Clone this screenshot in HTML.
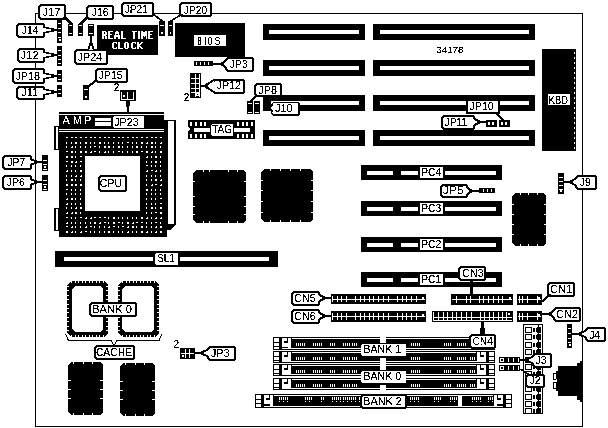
<!DOCTYPE html>
<html><head><meta charset="utf-8"><style>
html,body{margin:0;padding:0;background:#fff;width:608px;height:428px;overflow:hidden}
svg{display:block}
</style></head><body>
<svg width="608" height="428" viewBox="0 0 608 428" shape-rendering="crispEdges" font-family="Liberation Sans, sans-serif">
<defs><filter id="thr" filterUnits="userSpaceOnUse" x="0" y="0" width="608" height="428" color-interpolation-filters="sRGB"><feOffset in="SourceGraphic" dx="0.12" dy="0.3" result="o"/><feMerge result="m"><feMergeNode in="SourceGraphic"/><feMergeNode in="o"/></feMerge><feComponentTransfer in="m"><feFuncA type="discrete" tableValues="0 0 1"/></feComponentTransfer></filter></defs>
<rect width="608" height="428" fill="#fff"/>
<rect x="35" y="13" width="548" height="1" fill="#000"/>
<rect x="35" y="13" width="1" height="414" fill="#000"/>
<rect x="582" y="13" width="1" height="414" fill="#000"/>
<rect x="35" y="426" width="548" height="1" fill="#000"/>
<rect x="263" y="24" width="102" height="16" fill="#000"/>
<rect x="269" y="30" width="90" height="4" fill="#fff"/>
<rect x="373" y="24" width="162" height="16" fill="#000"/>
<rect x="380" y="30" width="149" height="4" fill="#fff"/>
<rect x="263" y="60" width="102" height="16" fill="#000"/>
<rect x="269" y="66" width="90" height="4" fill="#fff"/>
<rect x="373" y="60" width="162" height="16" fill="#000"/>
<rect x="380" y="66" width="149" height="4" fill="#fff"/>
<rect x="263" y="95" width="102" height="16" fill="#000"/>
<rect x="269" y="101" width="90" height="4" fill="#fff"/>
<rect x="373" y="95" width="162" height="16" fill="#000"/>
<rect x="380" y="101" width="149" height="4" fill="#fff"/>
<rect x="263" y="130" width="102" height="16" fill="#000"/>
<rect x="269" y="136" width="90" height="4" fill="#fff"/>
<rect x="373" y="130" width="162" height="16" fill="#000"/>
<rect x="380" y="136" width="149" height="4" fill="#fff"/>
<rect x="542" y="49" width="34" height="102" fill="#000"/>
<rect x="574" y="52" width="1" height="2" fill="#fff"/>
<rect x="574" y="57" width="1" height="2" fill="#fff"/>
<rect x="574" y="62" width="1" height="2" fill="#fff"/>
<rect x="574" y="67" width="1" height="2" fill="#fff"/>
<rect x="574" y="72" width="1" height="2" fill="#fff"/>
<rect x="574" y="77" width="1" height="2" fill="#fff"/>
<rect x="574" y="82" width="1" height="2" fill="#fff"/>
<rect x="574" y="87" width="1" height="2" fill="#fff"/>
<rect x="574" y="92" width="1" height="2" fill="#fff"/>
<rect x="574" y="97" width="1" height="2" fill="#fff"/>
<rect x="574" y="102" width="1" height="2" fill="#fff"/>
<rect x="574" y="107" width="1" height="2" fill="#fff"/>
<rect x="574" y="112" width="1" height="2" fill="#fff"/>
<rect x="574" y="117" width="1" height="2" fill="#fff"/>
<rect x="574" y="122" width="1" height="2" fill="#fff"/>
<rect x="574" y="127" width="1" height="2" fill="#fff"/>
<rect x="574" y="132" width="1" height="2" fill="#fff"/>
<rect x="574" y="137" width="1" height="2" fill="#fff"/>
<rect x="574" y="142" width="1" height="2" fill="#fff"/>
<rect x="574" y="147" width="1" height="2" fill="#fff"/>
<rect x="548" y="94" width="22" height="11" fill="#fff"/>
<rect x="97" y="25" width="61" height="30" fill="#000"/>
<rect x="102" y="31" width="4" height="1" fill="#fff"/>
<rect x="102" y="32" width="2" height="1" fill="#fff"/>
<rect x="105" y="32" width="2" height="1" fill="#fff"/>
<rect x="102" y="33" width="2" height="1" fill="#fff"/>
<rect x="105" y="33" width="2" height="1" fill="#fff"/>
<rect x="102" y="34" width="5" height="1" fill="#fff"/>
<rect x="102" y="35" width="4" height="1" fill="#fff"/>
<rect x="102" y="36" width="2" height="1" fill="#fff"/>
<rect x="105" y="36" width="2" height="1" fill="#fff"/>
<rect x="102" y="37" width="2" height="1" fill="#fff"/>
<rect x="105" y="37" width="2" height="1" fill="#fff"/>
<rect x="102" y="38" width="2" height="1" fill="#fff"/>
<rect x="105" y="38" width="2" height="1" fill="#fff"/>
<rect x="108" y="31" width="5" height="1" fill="#fff"/>
<rect x="108" y="32" width="2" height="1" fill="#fff"/>
<rect x="108" y="33" width="2" height="1" fill="#fff"/>
<rect x="108" y="34" width="4" height="1" fill="#fff"/>
<rect x="108" y="35" width="2" height="1" fill="#fff"/>
<rect x="108" y="36" width="2" height="1" fill="#fff"/>
<rect x="108" y="37" width="2" height="1" fill="#fff"/>
<rect x="108" y="38" width="5" height="1" fill="#fff"/>
<rect x="116" y="31" width="2" height="1" fill="#fff"/>
<rect x="115" y="32" width="4" height="1" fill="#fff"/>
<rect x="115" y="33" width="4" height="1" fill="#fff"/>
<rect x="115" y="34" width="1" height="1" fill="#fff"/>
<rect x="118" y="34" width="1" height="1" fill="#fff"/>
<rect x="114" y="35" width="6" height="1" fill="#fff"/>
<rect x="114" y="36" width="6" height="1" fill="#fff"/>
<rect x="114" y="37" width="2" height="1" fill="#fff"/>
<rect x="118" y="37" width="2" height="1" fill="#fff"/>
<rect x="114" y="38" width="2" height="1" fill="#fff"/>
<rect x="118" y="38" width="2" height="1" fill="#fff"/>
<rect x="121" y="31" width="2" height="1" fill="#fff"/>
<rect x="121" y="32" width="2" height="1" fill="#fff"/>
<rect x="121" y="33" width="2" height="1" fill="#fff"/>
<rect x="121" y="34" width="2" height="1" fill="#fff"/>
<rect x="121" y="35" width="2" height="1" fill="#fff"/>
<rect x="121" y="36" width="2" height="1" fill="#fff"/>
<rect x="121" y="37" width="2" height="1" fill="#fff"/>
<rect x="121" y="38" width="5" height="1" fill="#fff"/>
<rect x="132" y="31" width="5" height="1" fill="#fff"/>
<rect x="133" y="32" width="2" height="1" fill="#fff"/>
<rect x="133" y="33" width="2" height="1" fill="#fff"/>
<rect x="133" y="34" width="2" height="1" fill="#fff"/>
<rect x="133" y="35" width="2" height="1" fill="#fff"/>
<rect x="133" y="36" width="2" height="1" fill="#fff"/>
<rect x="133" y="37" width="2" height="1" fill="#fff"/>
<rect x="133" y="38" width="2" height="1" fill="#fff"/>
<rect x="138" y="31" width="2" height="1" fill="#fff"/>
<rect x="138" y="32" width="2" height="1" fill="#fff"/>
<rect x="138" y="33" width="2" height="1" fill="#fff"/>
<rect x="138" y="34" width="2" height="1" fill="#fff"/>
<rect x="138" y="35" width="2" height="1" fill="#fff"/>
<rect x="138" y="36" width="2" height="1" fill="#fff"/>
<rect x="138" y="37" width="2" height="1" fill="#fff"/>
<rect x="138" y="38" width="2" height="1" fill="#fff"/>
<rect x="141" y="31" width="2" height="1" fill="#fff"/>
<rect x="145" y="31" width="2" height="1" fill="#fff"/>
<rect x="141" y="32" width="6" height="1" fill="#fff"/>
<rect x="141" y="33" width="6" height="1" fill="#fff"/>
<rect x="141" y="34" width="6" height="1" fill="#fff"/>
<rect x="141" y="35" width="6" height="1" fill="#fff"/>
<rect x="141" y="36" width="2" height="1" fill="#fff"/>
<rect x="144" y="36" width="1" height="1" fill="#fff"/>
<rect x="146" y="36" width="1" height="1" fill="#fff"/>
<rect x="141" y="37" width="2" height="1" fill="#fff"/>
<rect x="146" y="37" width="1" height="1" fill="#fff"/>
<rect x="141" y="38" width="2" height="1" fill="#fff"/>
<rect x="146" y="38" width="1" height="1" fill="#fff"/>
<rect x="148" y="31" width="5" height="1" fill="#fff"/>
<rect x="148" y="32" width="2" height="1" fill="#fff"/>
<rect x="148" y="33" width="2" height="1" fill="#fff"/>
<rect x="148" y="34" width="4" height="1" fill="#fff"/>
<rect x="148" y="35" width="2" height="1" fill="#fff"/>
<rect x="148" y="36" width="2" height="1" fill="#fff"/>
<rect x="148" y="37" width="2" height="1" fill="#fff"/>
<rect x="148" y="38" width="5" height="1" fill="#fff"/>
<rect x="113" y="42" width="4" height="1" fill="#fff"/>
<rect x="112" y="43" width="2" height="1" fill="#fff"/>
<rect x="116" y="43" width="1" height="1" fill="#fff"/>
<rect x="112" y="44" width="2" height="1" fill="#fff"/>
<rect x="112" y="45" width="2" height="1" fill="#fff"/>
<rect x="112" y="46" width="2" height="1" fill="#fff"/>
<rect x="112" y="47" width="2" height="1" fill="#fff"/>
<rect x="116" y="47" width="1" height="1" fill="#fff"/>
<rect x="113" y="48" width="4" height="1" fill="#fff"/>
<rect x="118" y="42" width="2" height="1" fill="#fff"/>
<rect x="118" y="43" width="2" height="1" fill="#fff"/>
<rect x="118" y="44" width="2" height="1" fill="#fff"/>
<rect x="118" y="45" width="2" height="1" fill="#fff"/>
<rect x="118" y="46" width="2" height="1" fill="#fff"/>
<rect x="118" y="47" width="2" height="1" fill="#fff"/>
<rect x="118" y="48" width="5" height="1" fill="#fff"/>
<rect x="125" y="42" width="3" height="1" fill="#fff"/>
<rect x="124" y="43" width="2" height="1" fill="#fff"/>
<rect x="127" y="43" width="2" height="1" fill="#fff"/>
<rect x="124" y="44" width="2" height="1" fill="#fff"/>
<rect x="127" y="44" width="2" height="1" fill="#fff"/>
<rect x="124" y="45" width="2" height="1" fill="#fff"/>
<rect x="127" y="45" width="2" height="1" fill="#fff"/>
<rect x="124" y="46" width="2" height="1" fill="#fff"/>
<rect x="127" y="46" width="2" height="1" fill="#fff"/>
<rect x="124" y="47" width="2" height="1" fill="#fff"/>
<rect x="127" y="47" width="2" height="1" fill="#fff"/>
<rect x="125" y="48" width="3" height="1" fill="#fff"/>
<rect x="132" y="42" width="4" height="1" fill="#fff"/>
<rect x="131" y="43" width="2" height="1" fill="#fff"/>
<rect x="135" y="43" width="1" height="1" fill="#fff"/>
<rect x="131" y="44" width="2" height="1" fill="#fff"/>
<rect x="131" y="45" width="2" height="1" fill="#fff"/>
<rect x="131" y="46" width="2" height="1" fill="#fff"/>
<rect x="131" y="47" width="2" height="1" fill="#fff"/>
<rect x="135" y="47" width="1" height="1" fill="#fff"/>
<rect x="132" y="48" width="4" height="1" fill="#fff"/>
<rect x="137" y="42" width="2" height="1" fill="#fff"/>
<rect x="141" y="42" width="2" height="1" fill="#fff"/>
<rect x="137" y="43" width="2" height="1" fill="#fff"/>
<rect x="140" y="43" width="2" height="1" fill="#fff"/>
<rect x="137" y="44" width="4" height="1" fill="#fff"/>
<rect x="137" y="45" width="3" height="1" fill="#fff"/>
<rect x="137" y="46" width="4" height="1" fill="#fff"/>
<rect x="137" y="47" width="2" height="1" fill="#fff"/>
<rect x="140" y="47" width="2" height="1" fill="#fff"/>
<rect x="137" y="48" width="2" height="1" fill="#fff"/>
<rect x="141" y="48" width="2" height="1" fill="#fff"/>
<rect x="175" y="23" width="70" height="34" fill="#000"/>
<rect x="194" y="35" width="32" height="11" fill="#fff"/>
<rect x="198" y="37" width="3" height="1" fill="#000"/>
<rect x="198" y="38" width="1" height="1" fill="#000"/>
<rect x="200" y="38" width="1" height="1" fill="#000"/>
<rect x="198" y="39" width="1" height="1" fill="#000"/>
<rect x="200" y="39" width="1" height="1" fill="#000"/>
<rect x="198" y="40" width="3" height="1" fill="#000"/>
<rect x="198" y="41" width="1" height="1" fill="#000"/>
<rect x="200" y="41" width="1" height="1" fill="#000"/>
<rect x="198" y="42" width="1" height="1" fill="#000"/>
<rect x="200" y="42" width="1" height="1" fill="#000"/>
<rect x="198" y="43" width="1" height="1" fill="#000"/>
<rect x="200" y="43" width="1" height="1" fill="#000"/>
<rect x="198" y="44" width="3" height="1" fill="#000"/>
<rect x="205" y="37" width="1" height="1" fill="#000"/>
<rect x="205" y="38" width="1" height="1" fill="#000"/>
<rect x="205" y="39" width="1" height="1" fill="#000"/>
<rect x="205" y="40" width="1" height="1" fill="#000"/>
<rect x="205" y="41" width="1" height="1" fill="#000"/>
<rect x="205" y="42" width="1" height="1" fill="#000"/>
<rect x="205" y="43" width="1" height="1" fill="#000"/>
<rect x="205" y="44" width="1" height="1" fill="#000"/>
<rect x="209" y="37" width="2" height="1" fill="#000"/>
<rect x="208" y="38" width="1" height="1" fill="#000"/>
<rect x="211" y="38" width="1" height="1" fill="#000"/>
<rect x="208" y="39" width="1" height="1" fill="#000"/>
<rect x="211" y="39" width="1" height="1" fill="#000"/>
<rect x="208" y="40" width="1" height="1" fill="#000"/>
<rect x="211" y="40" width="1" height="1" fill="#000"/>
<rect x="208" y="41" width="1" height="1" fill="#000"/>
<rect x="211" y="41" width="1" height="1" fill="#000"/>
<rect x="208" y="42" width="1" height="1" fill="#000"/>
<rect x="211" y="42" width="1" height="1" fill="#000"/>
<rect x="208" y="43" width="1" height="1" fill="#000"/>
<rect x="211" y="43" width="1" height="1" fill="#000"/>
<rect x="209" y="44" width="2" height="1" fill="#000"/>
<rect x="216" y="37" width="3" height="1" fill="#000"/>
<rect x="215" y="38" width="1" height="1" fill="#000"/>
<rect x="219" y="38" width="1" height="1" fill="#000"/>
<rect x="215" y="39" width="1" height="1" fill="#000"/>
<rect x="216" y="40" width="3" height="1" fill="#000"/>
<rect x="219" y="41" width="1" height="1" fill="#000"/>
<rect x="219" y="42" width="1" height="1" fill="#000"/>
<rect x="215" y="43" width="1" height="1" fill="#000"/>
<rect x="219" y="43" width="1" height="1" fill="#000"/>
<rect x="216" y="44" width="3" height="1" fill="#000"/>
<rect x="68" y="24" width="5" height="12" fill="#000"/>
<rect x="69" y="25" width="3" height="1" fill="#fff"/>
<rect x="69" y="33" width="3" height="1" fill="#fff"/>
<rect x="78" y="24" width="5" height="12" fill="#000"/>
<rect x="79" y="25" width="3" height="1" fill="#fff"/>
<rect x="79" y="33" width="3" height="1" fill="#fff"/>
<rect x="88" y="24" width="6" height="12" fill="#000"/>
<rect x="89" y="25" width="4" height="1" fill="#fff"/>
<rect x="89" y="33" width="4" height="1" fill="#fff"/>
<rect x="159" y="21" width="6" height="15" fill="#000"/>
<rect x="160" y="25" width="4" height="1" fill="#fff"/>
<rect x="161" y="32" width="2" height="2" fill="#fff"/>
<rect x="168" y="21" width="5" height="15" fill="#000"/>
<rect x="169" y="25" width="3" height="1" fill="#fff"/>
<rect x="170" y="32" width="1" height="2" fill="#fff"/>
<polygon points="40,4 64,4 66,6 66,18 64,20 40,20 38,18 38,6" fill="#000"/>
<polygon points="41,6 63,6 64,7 64,17 63,18 41,18 40,17 40,7" fill="#fff"/>
<polygon points="62,17 66,17 73,24 69,24" fill="#000"/>
<polygon points="88,5 112,5 114,7 114,18 112,20 88,20 86,18 86,7" fill="#000"/>
<polygon points="89,7 111,7 112,8 112,17 111,18 89,18 88,17 88,8" fill="#fff"/>
<polygon points="86,17 90,17 82,24 78,24" fill="#000"/>
<polygon points="123,2 152,2 154,4 154,15 152,17 123,17 121,15 121,4" fill="#000"/>
<polygon points="124,4 151,4 152,5 152,14 151,15 124,15 123,14 123,5" fill="#fff"/>
<polygon points="151,14 154,14 164,21 161,21" fill="#000"/>
<polygon points="181,2 210,2 212,4 212,15 210,17 181,17 179,15 179,4" fill="#000"/>
<polygon points="182,4 209,4 210,5 210,14 209,15 182,15 181,14 181,5" fill="#fff"/>
<polygon points="181,14 184,14 172,21 169,21" fill="#000"/>
<polygon points="76,49 106,49 108,51 108,63 106,65 76,65 74,63 74,51" fill="#000"/>
<polygon points="77,51 105,51 106,52 106,62 105,63 77,63 76,62 76,52" fill="#fff"/>
<polygon points="90,36 92,36 92,42 95,50 87,50 90,42" fill="#000"/>
<polygon points="91,45 93,50 89,50" fill="#fff"/>
<rect x="57" y="19" width="5" height="24" fill="#000"/>
<rect x="58" y="23" width="3" height="1" fill="#fff"/>
<rect x="58" y="28" width="3" height="1" fill="#fff"/>
<rect x="58" y="32" width="3" height="1" fill="#fff"/>
<rect x="58" y="37" width="3" height="1" fill="#fff"/>
<rect x="59" y="39" width="2" height="2" fill="#fff"/>
<polygon points="18,23 43,23 45,25 45,36 43,38 18,38 16,36 16,25" fill="#000"/>
<polygon points="19,25 42,25 43,26 43,35 42,36 19,36 18,35 18,26" fill="#fff"/>
<rect x="55" y="29" width="2" height="2" fill="#000"/>
<polygon points="43,26 56,29 56,31 43,34" fill="#000"/>
<polygon points="43,28 53,30 43,32" fill="#fff"/>
<rect x="57" y="46" width="5" height="20" fill="#000"/>
<rect x="58" y="50" width="3" height="1" fill="#fff"/>
<rect x="58" y="55" width="3" height="1" fill="#fff"/>
<rect x="58" y="59" width="3" height="1" fill="#fff"/>
<rect x="58" y="63" width="3" height="1" fill="#fff"/>
<polygon points="19,48 43,48 45,50 45,61 43,63 19,63 17,61 17,50" fill="#000"/>
<polygon points="20,50 42,50 43,51 43,60 42,61 20,61 19,60 19,51" fill="#fff"/>
<rect x="55" y="54" width="2" height="2" fill="#000"/>
<polygon points="43,51 56,54 56,56 43,59" fill="#000"/>
<polygon points="43,53 53,55 43,57" fill="#fff"/>
<rect x="57" y="70" width="5" height="12" fill="#000"/>
<rect x="58" y="74" width="3" height="1" fill="#fff"/>
<rect x="58" y="79" width="3" height="1" fill="#fff"/>
<polygon points="14,68 43,68 45,70 45,82 43,84 14,84 12,82 12,70" fill="#000"/>
<polygon points="15,70 42,70 43,71 43,81 42,82 15,82 14,81 14,71" fill="#fff"/>
<rect x="55" y="75" width="2" height="2" fill="#000"/>
<polygon points="43,72 56,75 56,77 43,80" fill="#000"/>
<polygon points="43,74 53,76 43,78" fill="#fff"/>
<rect x="57" y="85" width="5" height="12" fill="#000"/>
<rect x="58" y="89" width="3" height="1" fill="#fff"/>
<rect x="58" y="93" width="3" height="1" fill="#fff"/>
<polygon points="18,86 43,86 45,88 45,98 43,100 18,100 16,98 16,88" fill="#000"/>
<polygon points="19,88 42,88 43,89 43,97 42,98 19,98 18,97 18,89" fill="#fff"/>
<rect x="55" y="91" width="2" height="2" fill="#000"/>
<polygon points="43,88 56,91 56,93 43,96" fill="#000"/>
<polygon points="43,90 53,92 43,94" fill="#fff"/>
<rect x="83" y="85" width="6" height="15" fill="#000"/>
<rect x="84" y="89" width="4" height="1" fill="#fff"/>
<rect x="85" y="96" width="2" height="2" fill="#fff"/>
<polygon points="97,68 126,68 128,70 128,81 126,83 97,83 95,81 95,70" fill="#000"/>
<polygon points="98,70 125,70 126,71 126,80 125,81 98,81 97,80 97,71" fill="#fff"/>
<polygon points="95,80 99,80 89,87 86,87" fill="#000"/>
<rect x="120" y="90" width="16" height="11" fill="#000"/>
<rect x="121" y="92" width="1" height="8" fill="#fff"/>
<rect x="127" y="92" width="1" height="8" fill="#fff"/>
<rect x="133" y="92" width="1" height="8" fill="#fff"/>
<rect x="121" y="99" width="13" height="1" fill="#fff"/>
<rect x="123" y="95" width="2" height="2" fill="#fff"/>
<polygon points="126,101 130,101 129,112 127,112" fill="#000"/>
<rect x="194" y="61" width="19" height="5" fill="#000"/>
<rect x="196" y="62" width="1" height="3" fill="#fff"/>
<rect x="200" y="62" width="1" height="3" fill="#fff"/>
<rect x="204" y="62" width="1" height="3" fill="#fff"/>
<rect x="208" y="62" width="1" height="3" fill="#fff"/>
<polygon points="227,57 252,57 254,59 254,70 252,72 227,72 225,70 225,59" fill="#000"/>
<polygon points="228,59 251,59 252,60 252,69 251,70 228,70 227,69 227,60" fill="#fff"/>
<rect x="213" y="63" width="8" height="2" fill="#000"/>
<polygon points="227,59 220,63 220,65 227,69" fill="#000"/>
<polygon points="227,61 223,64 227,67" fill="#fff"/>
<rect x="190" y="73" width="11" height="25" fill="#000"/>
<rect x="195" y="74" width="1" height="23" fill="#fff"/>
<rect x="199" y="74" width="1" height="23" fill="#fff"/>
<rect x="191" y="78" width="9" height="1" fill="#fff"/>
<rect x="191" y="83" width="9" height="1" fill="#fff"/>
<rect x="191" y="88" width="9" height="1" fill="#fff"/>
<rect x="191" y="92" width="9" height="1" fill="#fff"/>
<rect x="196" y="93" width="3" height="3" fill="#fff"/>
<rect x="197" y="94" width="1" height="1" fill="#000"/>
<polygon points="214,79 243,79 245,81 245,92 243,94 214,94 212,92 212,81" fill="#000"/>
<polygon points="215,81 242,81 243,82 243,91 242,92 215,92 214,91 214,82" fill="#fff"/>
<rect x="201" y="85" width="4" height="2" fill="#000"/>
<polygon points="214,79 204,85 204,87 214,93" fill="#000"/>
<polygon points="214,81 207,86 214,91" fill="#fff"/>
<rect x="247" y="101" width="6" height="13" fill="#000"/>
<rect x="254" y="101" width="6" height="13" fill="#000"/>
<rect x="248" y="103" width="4" height="1" fill="#fff"/>
<rect x="248" y="112" width="4" height="1" fill="#fff"/>
<rect x="255" y="103" width="4" height="1" fill="#fff"/>
<rect x="255" y="112" width="4" height="1" fill="#fff"/>
<polygon points="256,83 280,83 282,85 282,95 280,97 256,97 254,95 254,85" fill="#000"/>
<polygon points="257,85 279,85 280,86 280,94 279,95 257,95 256,94 256,86" fill="#fff"/>
<polygon points="255,95 258,95 252,101 249,101" fill="#000"/>
<rect x="268" y="100" width="3" height="5" fill="#000"/>
<polygon points="273,102 298,102 300,104 300,114 298,116 273,116 271,114 271,104" fill="#000"/>
<polygon points="273,103 297,103 298,104 298,113 297,114 273,114 272,113 272,104" fill="#fff"/>
<rect x="265" y="107" width="3" height="2" fill="#000"/>
<polygon points="273,104 267,107 267,109 273,112" fill="#000"/>
<polygon points="273,106 270,108 273,110" fill="#fff"/>
<rect x="466" y="101" width="34" height="13" fill="#000"/>
<rect x="468" y="101" width="30" height="11" fill="#fff"/>
<polygon points="494,113 497,113 506,121 503,121" fill="#000"/>
<polygon points="443,115 473,115 475,117 475,128 473,130 443,130 441,128 441,117" fill="#000"/>
<polygon points="444,117 472,117 473,118 473,127 472,128 444,128 443,127 443,118" fill="#fff"/>
<rect x="480" y="121" width="6" height="2" fill="#000"/>
<polygon points="473,117 481,121 481,123 473,127" fill="#000"/>
<polygon points="473,119 478,122 473,125" fill="#fff"/>
<rect x="486" y="120" width="11" height="7" fill="#000"/>
<rect x="488" y="122" width="2" height="3" fill="#fff"/>
<rect x="492" y="122" width="2" height="3" fill="#fff"/>
<rect x="499" y="120" width="11" height="7" fill="#000"/>
<rect x="501" y="122" width="2" height="3" fill="#fff"/>
<rect x="505" y="122" width="2" height="3" fill="#fff"/>
<rect x="59" y="112" width="105" height="2" fill="#000"/>
<rect x="59" y="115" width="105" height="14" fill="#000"/>
<rect x="95" y="118" width="16" height="3" fill="#fff"/>
<rect x="95" y="122" width="16" height="4" fill="#fff"/>
<polygon points="114,116 143,116 144,117 144,127 143,128 114,128 113,127 113,117" fill="#fff"/>
<rect x="59" y="129" width="105" height="1" fill="#fff"/>
<rect x="59" y="130" width="105" height="1" fill="#000"/>
<rect x="59" y="131" width="105" height="1" fill="#fff"/>
<rect x="59" y="132" width="108" height="105" fill="#000"/>
<rect x="66" y="137" width="2" height="1" fill="#fff"/>
<rect x="71" y="137" width="2" height="1" fill="#fff"/>
<rect x="75" y="137" width="2" height="1" fill="#fff"/>
<rect x="80" y="137" width="2" height="1" fill="#fff"/>
<rect x="85" y="137" width="2" height="1" fill="#fff"/>
<rect x="90" y="137" width="2" height="1" fill="#fff"/>
<rect x="94" y="137" width="2" height="1" fill="#fff"/>
<rect x="99" y="137" width="2" height="1" fill="#fff"/>
<rect x="104" y="137" width="2" height="1" fill="#fff"/>
<rect x="108" y="137" width="2" height="1" fill="#fff"/>
<rect x="113" y="137" width="2" height="1" fill="#fff"/>
<rect x="118" y="137" width="2" height="1" fill="#fff"/>
<rect x="122" y="137" width="2" height="1" fill="#fff"/>
<rect x="127" y="137" width="2" height="1" fill="#fff"/>
<rect x="132" y="137" width="2" height="1" fill="#fff"/>
<rect x="136" y="137" width="2" height="1" fill="#fff"/>
<rect x="141" y="137" width="2" height="1" fill="#fff"/>
<rect x="146" y="137" width="2" height="1" fill="#fff"/>
<rect x="151" y="137" width="2" height="1" fill="#fff"/>
<rect x="155" y="137" width="2" height="1" fill="#fff"/>
<rect x="160" y="137" width="2" height="1" fill="#fff"/>
<rect x="66" y="142" width="1" height="2" fill="#fff"/>
<rect x="71" y="142" width="1" height="2" fill="#fff"/>
<rect x="75" y="142" width="2" height="2" fill="#fff"/>
<rect x="80" y="142" width="1" height="2" fill="#fff"/>
<rect x="85" y="142" width="2" height="2" fill="#fff"/>
<rect x="90" y="142" width="1" height="2" fill="#fff"/>
<rect x="94" y="142" width="1" height="2" fill="#fff"/>
<rect x="99" y="142" width="2" height="2" fill="#fff"/>
<rect x="104" y="142" width="1" height="2" fill="#fff"/>
<rect x="108" y="142" width="1" height="2" fill="#fff"/>
<rect x="113" y="142" width="1" height="2" fill="#fff"/>
<rect x="118" y="142" width="1" height="2" fill="#fff"/>
<rect x="122" y="142" width="1" height="2" fill="#fff"/>
<rect x="127" y="142" width="2" height="1" fill="#fff"/>
<rect x="132" y="142" width="1" height="2" fill="#fff"/>
<rect x="136" y="142" width="1" height="2" fill="#fff"/>
<rect x="141" y="142" width="2" height="2" fill="#fff"/>
<rect x="146" y="143" width="2" height="1" fill="#fff"/>
<rect x="147" y="142" width="1" height="1" fill="#fff"/>
<rect x="151" y="142" width="2" height="2" fill="#fff"/>
<rect x="155" y="142" width="1" height="2" fill="#fff"/>
<rect x="160" y="143" width="2" height="1" fill="#fff"/>
<rect x="161" y="142" width="1" height="1" fill="#fff"/>
<rect x="66" y="146" width="1" height="2" fill="#fff"/>
<rect x="71" y="147" width="2" height="1" fill="#fff"/>
<rect x="72" y="146" width="1" height="1" fill="#fff"/>
<rect x="75" y="146" width="1" height="2" fill="#fff"/>
<rect x="80" y="146" width="1" height="2" fill="#fff"/>
<rect x="85" y="146" width="1" height="2" fill="#fff"/>
<rect x="90" y="146" width="1" height="2" fill="#fff"/>
<rect x="94" y="146" width="2" height="1" fill="#fff"/>
<rect x="99" y="146" width="1" height="2" fill="#fff"/>
<rect x="104" y="146" width="2" height="2" fill="#fff"/>
<rect x="108" y="146" width="2" height="2" fill="#fff"/>
<rect x="113" y="146" width="1" height="2" fill="#fff"/>
<rect x="118" y="146" width="2" height="2" fill="#fff"/>
<rect x="122" y="146" width="1" height="2" fill="#fff"/>
<rect x="127" y="146" width="1" height="2" fill="#fff"/>
<rect x="132" y="146" width="1" height="2" fill="#fff"/>
<rect x="136" y="146" width="2" height="2" fill="#fff"/>
<rect x="141" y="146" width="1" height="2" fill="#fff"/>
<rect x="146" y="146" width="1" height="2" fill="#fff"/>
<rect x="151" y="146" width="2" height="2" fill="#fff"/>
<rect x="155" y="146" width="1" height="2" fill="#fff"/>
<rect x="160" y="146" width="1" height="2" fill="#fff"/>
<rect x="66" y="151" width="2" height="1" fill="#fff"/>
<rect x="71" y="151" width="2" height="2" fill="#fff"/>
<rect x="75" y="151" width="1" height="2" fill="#fff"/>
<rect x="80" y="151" width="2" height="2" fill="#fff"/>
<rect x="85" y="151" width="2" height="2" fill="#fff"/>
<rect x="90" y="152" width="2" height="1" fill="#fff"/>
<rect x="91" y="151" width="1" height="1" fill="#fff"/>
<rect x="94" y="151" width="2" height="1" fill="#fff"/>
<rect x="99" y="151" width="1" height="2" fill="#fff"/>
<rect x="104" y="152" width="2" height="1" fill="#fff"/>
<rect x="105" y="151" width="1" height="1" fill="#fff"/>
<rect x="108" y="151" width="1" height="2" fill="#fff"/>
<rect x="113" y="151" width="1" height="2" fill="#fff"/>
<rect x="118" y="151" width="2" height="1" fill="#fff"/>
<rect x="122" y="151" width="1" height="2" fill="#fff"/>
<rect x="127" y="151" width="1" height="2" fill="#fff"/>
<rect x="132" y="151" width="1" height="2" fill="#fff"/>
<rect x="136" y="151" width="2" height="2" fill="#fff"/>
<rect x="141" y="151" width="2" height="1" fill="#fff"/>
<rect x="146" y="151" width="2" height="2" fill="#fff"/>
<rect x="151" y="152" width="2" height="1" fill="#fff"/>
<rect x="152" y="151" width="1" height="1" fill="#fff"/>
<rect x="155" y="151" width="1" height="2" fill="#fff"/>
<rect x="160" y="151" width="2" height="2" fill="#fff"/>
<rect x="66" y="156" width="2" height="2" fill="#fff"/>
<rect x="71" y="156" width="2" height="2" fill="#fff"/>
<rect x="75" y="156" width="1" height="2" fill="#fff"/>
<rect x="80" y="156" width="2" height="1" fill="#fff"/>
<rect x="146" y="157" width="2" height="1" fill="#fff"/>
<rect x="147" y="156" width="1" height="1" fill="#fff"/>
<rect x="151" y="156" width="1" height="2" fill="#fff"/>
<rect x="155" y="156" width="2" height="2" fill="#fff"/>
<rect x="160" y="156" width="1" height="2" fill="#fff"/>
<rect x="66" y="161" width="2" height="1" fill="#fff"/>
<rect x="71" y="161" width="2" height="2" fill="#fff"/>
<rect x="75" y="162" width="2" height="1" fill="#fff"/>
<rect x="76" y="161" width="1" height="1" fill="#fff"/>
<rect x="80" y="161" width="2" height="1" fill="#fff"/>
<rect x="146" y="161" width="1" height="2" fill="#fff"/>
<rect x="151" y="161" width="1" height="2" fill="#fff"/>
<rect x="155" y="161" width="2" height="2" fill="#fff"/>
<rect x="160" y="161" width="1" height="2" fill="#fff"/>
<rect x="66" y="165" width="1" height="2" fill="#fff"/>
<rect x="71" y="165" width="1" height="2" fill="#fff"/>
<rect x="75" y="165" width="1" height="2" fill="#fff"/>
<rect x="80" y="165" width="1" height="2" fill="#fff"/>
<rect x="146" y="165" width="2" height="1" fill="#fff"/>
<rect x="151" y="165" width="1" height="2" fill="#fff"/>
<rect x="155" y="165" width="1" height="2" fill="#fff"/>
<rect x="160" y="165" width="1" height="2" fill="#fff"/>
<rect x="66" y="171" width="2" height="1" fill="#fff"/>
<rect x="67" y="170" width="1" height="1" fill="#fff"/>
<rect x="71" y="170" width="1" height="2" fill="#fff"/>
<rect x="75" y="170" width="1" height="2" fill="#fff"/>
<rect x="80" y="170" width="2" height="2" fill="#fff"/>
<rect x="146" y="171" width="2" height="1" fill="#fff"/>
<rect x="147" y="170" width="1" height="1" fill="#fff"/>
<rect x="151" y="170" width="2" height="1" fill="#fff"/>
<rect x="155" y="171" width="2" height="1" fill="#fff"/>
<rect x="156" y="170" width="1" height="1" fill="#fff"/>
<rect x="160" y="170" width="1" height="2" fill="#fff"/>
<rect x="66" y="175" width="1" height="2" fill="#fff"/>
<rect x="71" y="175" width="1" height="2" fill="#fff"/>
<rect x="75" y="176" width="2" height="1" fill="#fff"/>
<rect x="76" y="175" width="1" height="1" fill="#fff"/>
<rect x="80" y="176" width="2" height="1" fill="#fff"/>
<rect x="81" y="175" width="1" height="1" fill="#fff"/>
<rect x="146" y="175" width="1" height="2" fill="#fff"/>
<rect x="151" y="175" width="1" height="2" fill="#fff"/>
<rect x="155" y="175" width="1" height="2" fill="#fff"/>
<rect x="160" y="175" width="1" height="2" fill="#fff"/>
<rect x="66" y="179" width="1" height="2" fill="#fff"/>
<rect x="71" y="179" width="2" height="2" fill="#fff"/>
<rect x="75" y="179" width="1" height="2" fill="#fff"/>
<rect x="80" y="179" width="1" height="2" fill="#fff"/>
<rect x="146" y="179" width="1" height="2" fill="#fff"/>
<rect x="151" y="179" width="1" height="2" fill="#fff"/>
<rect x="155" y="179" width="2" height="2" fill="#fff"/>
<rect x="160" y="180" width="2" height="1" fill="#fff"/>
<rect x="161" y="179" width="1" height="1" fill="#fff"/>
<rect x="66" y="184" width="2" height="2" fill="#fff"/>
<rect x="71" y="184" width="2" height="2" fill="#fff"/>
<rect x="75" y="184" width="2" height="2" fill="#fff"/>
<rect x="80" y="184" width="2" height="2" fill="#fff"/>
<rect x="146" y="184" width="1" height="2" fill="#fff"/>
<rect x="151" y="185" width="2" height="1" fill="#fff"/>
<rect x="152" y="184" width="1" height="1" fill="#fff"/>
<rect x="155" y="184" width="2" height="1" fill="#fff"/>
<rect x="160" y="185" width="2" height="1" fill="#fff"/>
<rect x="161" y="184" width="1" height="1" fill="#fff"/>
<rect x="66" y="189" width="2" height="1" fill="#fff"/>
<rect x="71" y="189" width="1" height="2" fill="#fff"/>
<rect x="75" y="189" width="1" height="2" fill="#fff"/>
<rect x="80" y="189" width="1" height="2" fill="#fff"/>
<rect x="146" y="189" width="2" height="2" fill="#fff"/>
<rect x="151" y="189" width="1" height="2" fill="#fff"/>
<rect x="155" y="189" width="1" height="2" fill="#fff"/>
<rect x="160" y="189" width="1" height="2" fill="#fff"/>
<rect x="66" y="193" width="1" height="2" fill="#fff"/>
<rect x="71" y="193" width="1" height="2" fill="#fff"/>
<rect x="75" y="193" width="1" height="2" fill="#fff"/>
<rect x="80" y="193" width="1" height="2" fill="#fff"/>
<rect x="146" y="193" width="1" height="2" fill="#fff"/>
<rect x="151" y="193" width="1" height="2" fill="#fff"/>
<rect x="155" y="193" width="1" height="2" fill="#fff"/>
<rect x="160" y="193" width="1" height="2" fill="#fff"/>
<rect x="66" y="199" width="2" height="1" fill="#fff"/>
<rect x="67" y="198" width="1" height="1" fill="#fff"/>
<rect x="71" y="198" width="2" height="2" fill="#fff"/>
<rect x="75" y="198" width="1" height="2" fill="#fff"/>
<rect x="80" y="198" width="1" height="2" fill="#fff"/>
<rect x="146" y="198" width="1" height="2" fill="#fff"/>
<rect x="151" y="198" width="1" height="2" fill="#fff"/>
<rect x="155" y="198" width="1" height="2" fill="#fff"/>
<rect x="160" y="198" width="2" height="1" fill="#fff"/>
<rect x="66" y="204" width="2" height="1" fill="#fff"/>
<rect x="67" y="203" width="1" height="1" fill="#fff"/>
<rect x="71" y="203" width="1" height="2" fill="#fff"/>
<rect x="75" y="203" width="1" height="2" fill="#fff"/>
<rect x="80" y="203" width="1" height="2" fill="#fff"/>
<rect x="146" y="203" width="1" height="2" fill="#fff"/>
<rect x="151" y="203" width="1" height="2" fill="#fff"/>
<rect x="155" y="203" width="1" height="2" fill="#fff"/>
<rect x="160" y="203" width="2" height="1" fill="#fff"/>
<rect x="66" y="207" width="1" height="2" fill="#fff"/>
<rect x="71" y="207" width="1" height="2" fill="#fff"/>
<rect x="75" y="208" width="2" height="1" fill="#fff"/>
<rect x="76" y="207" width="1" height="1" fill="#fff"/>
<rect x="80" y="207" width="2" height="2" fill="#fff"/>
<rect x="146" y="207" width="1" height="2" fill="#fff"/>
<rect x="151" y="207" width="2" height="2" fill="#fff"/>
<rect x="155" y="207" width="1" height="2" fill="#fff"/>
<rect x="160" y="207" width="2" height="2" fill="#fff"/>
<rect x="66" y="213" width="2" height="1" fill="#fff"/>
<rect x="67" y="212" width="1" height="1" fill="#fff"/>
<rect x="71" y="213" width="2" height="1" fill="#fff"/>
<rect x="72" y="212" width="1" height="1" fill="#fff"/>
<rect x="75" y="212" width="2" height="2" fill="#fff"/>
<rect x="80" y="212" width="1" height="2" fill="#fff"/>
<rect x="146" y="212" width="1" height="2" fill="#fff"/>
<rect x="151" y="212" width="1" height="2" fill="#fff"/>
<rect x="155" y="212" width="2" height="1" fill="#fff"/>
<rect x="160" y="212" width="2" height="2" fill="#fff"/>
<rect x="66" y="217" width="2" height="1" fill="#fff"/>
<rect x="71" y="217" width="1" height="2" fill="#fff"/>
<rect x="75" y="217" width="1" height="2" fill="#fff"/>
<rect x="80" y="217" width="2" height="1" fill="#fff"/>
<rect x="85" y="218" width="2" height="1" fill="#fff"/>
<rect x="86" y="217" width="1" height="1" fill="#fff"/>
<rect x="90" y="218" width="2" height="1" fill="#fff"/>
<rect x="91" y="217" width="1" height="1" fill="#fff"/>
<rect x="94" y="217" width="2" height="1" fill="#fff"/>
<rect x="99" y="217" width="2" height="1" fill="#fff"/>
<rect x="104" y="217" width="2" height="1" fill="#fff"/>
<rect x="108" y="217" width="1" height="2" fill="#fff"/>
<rect x="113" y="217" width="2" height="2" fill="#fff"/>
<rect x="118" y="217" width="1" height="2" fill="#fff"/>
<rect x="122" y="217" width="1" height="2" fill="#fff"/>
<rect x="127" y="217" width="1" height="2" fill="#fff"/>
<rect x="132" y="217" width="1" height="2" fill="#fff"/>
<rect x="136" y="217" width="1" height="2" fill="#fff"/>
<rect x="141" y="217" width="2" height="2" fill="#fff"/>
<rect x="146" y="218" width="2" height="1" fill="#fff"/>
<rect x="147" y="217" width="1" height="1" fill="#fff"/>
<rect x="151" y="217" width="1" height="2" fill="#fff"/>
<rect x="155" y="218" width="2" height="1" fill="#fff"/>
<rect x="156" y="217" width="1" height="1" fill="#fff"/>
<rect x="160" y="218" width="2" height="1" fill="#fff"/>
<rect x="161" y="217" width="1" height="1" fill="#fff"/>
<rect x="66" y="223" width="2" height="1" fill="#fff"/>
<rect x="67" y="222" width="1" height="1" fill="#fff"/>
<rect x="71" y="222" width="1" height="2" fill="#fff"/>
<rect x="75" y="222" width="1" height="2" fill="#fff"/>
<rect x="80" y="222" width="1" height="2" fill="#fff"/>
<rect x="85" y="222" width="1" height="2" fill="#fff"/>
<rect x="90" y="222" width="1" height="2" fill="#fff"/>
<rect x="94" y="222" width="2" height="2" fill="#fff"/>
<rect x="99" y="223" width="2" height="1" fill="#fff"/>
<rect x="100" y="222" width="1" height="1" fill="#fff"/>
<rect x="104" y="222" width="2" height="1" fill="#fff"/>
<rect x="108" y="222" width="1" height="2" fill="#fff"/>
<rect x="113" y="222" width="2" height="2" fill="#fff"/>
<rect x="118" y="222" width="2" height="1" fill="#fff"/>
<rect x="122" y="222" width="1" height="2" fill="#fff"/>
<rect x="127" y="222" width="2" height="2" fill="#fff"/>
<rect x="132" y="223" width="2" height="1" fill="#fff"/>
<rect x="133" y="222" width="1" height="1" fill="#fff"/>
<rect x="136" y="222" width="2" height="1" fill="#fff"/>
<rect x="141" y="222" width="2" height="1" fill="#fff"/>
<rect x="146" y="222" width="1" height="2" fill="#fff"/>
<rect x="151" y="222" width="1" height="2" fill="#fff"/>
<rect x="155" y="222" width="2" height="1" fill="#fff"/>
<rect x="160" y="222" width="1" height="2" fill="#fff"/>
<rect x="66" y="226" width="2" height="1" fill="#fff"/>
<rect x="71" y="227" width="2" height="1" fill="#fff"/>
<rect x="72" y="226" width="1" height="1" fill="#fff"/>
<rect x="75" y="226" width="1" height="2" fill="#fff"/>
<rect x="80" y="226" width="1" height="2" fill="#fff"/>
<rect x="85" y="227" width="2" height="1" fill="#fff"/>
<rect x="86" y="226" width="1" height="1" fill="#fff"/>
<rect x="90" y="226" width="2" height="1" fill="#fff"/>
<rect x="94" y="226" width="1" height="2" fill="#fff"/>
<rect x="99" y="226" width="1" height="2" fill="#fff"/>
<rect x="104" y="226" width="1" height="2" fill="#fff"/>
<rect x="108" y="227" width="2" height="1" fill="#fff"/>
<rect x="109" y="226" width="1" height="1" fill="#fff"/>
<rect x="113" y="226" width="2" height="1" fill="#fff"/>
<rect x="118" y="226" width="1" height="2" fill="#fff"/>
<rect x="122" y="226" width="2" height="1" fill="#fff"/>
<rect x="127" y="227" width="2" height="1" fill="#fff"/>
<rect x="128" y="226" width="1" height="1" fill="#fff"/>
<rect x="132" y="226" width="2" height="2" fill="#fff"/>
<rect x="136" y="226" width="1" height="2" fill="#fff"/>
<rect x="141" y="226" width="2" height="2" fill="#fff"/>
<rect x="146" y="226" width="1" height="2" fill="#fff"/>
<rect x="151" y="226" width="1" height="2" fill="#fff"/>
<rect x="155" y="227" width="2" height="1" fill="#fff"/>
<rect x="156" y="226" width="1" height="1" fill="#fff"/>
<rect x="160" y="226" width="2" height="2" fill="#fff"/>
<rect x="66" y="231" width="2" height="2" fill="#fff"/>
<rect x="71" y="232" width="2" height="1" fill="#fff"/>
<rect x="72" y="231" width="1" height="1" fill="#fff"/>
<rect x="75" y="231" width="1" height="2" fill="#fff"/>
<rect x="80" y="232" width="2" height="1" fill="#fff"/>
<rect x="81" y="231" width="1" height="1" fill="#fff"/>
<rect x="85" y="231" width="2" height="1" fill="#fff"/>
<rect x="90" y="231" width="1" height="2" fill="#fff"/>
<rect x="94" y="231" width="1" height="2" fill="#fff"/>
<rect x="99" y="231" width="1" height="2" fill="#fff"/>
<rect x="104" y="231" width="1" height="2" fill="#fff"/>
<rect x="108" y="231" width="2" height="2" fill="#fff"/>
<rect x="113" y="231" width="1" height="2" fill="#fff"/>
<rect x="118" y="231" width="1" height="2" fill="#fff"/>
<rect x="122" y="231" width="1" height="2" fill="#fff"/>
<rect x="127" y="232" width="2" height="1" fill="#fff"/>
<rect x="128" y="231" width="1" height="1" fill="#fff"/>
<rect x="132" y="231" width="1" height="2" fill="#fff"/>
<rect x="136" y="231" width="1" height="2" fill="#fff"/>
<rect x="141" y="231" width="2" height="2" fill="#fff"/>
<rect x="146" y="232" width="2" height="1" fill="#fff"/>
<rect x="147" y="231" width="1" height="1" fill="#fff"/>
<rect x="151" y="231" width="1" height="2" fill="#fff"/>
<rect x="155" y="232" width="2" height="1" fill="#fff"/>
<rect x="156" y="231" width="1" height="1" fill="#fff"/>
<rect x="160" y="231" width="2" height="2" fill="#fff"/>
<rect x="85" y="156" width="55" height="55" fill="#fff"/>
<polygon points="100,175 125,175 127,177 127,190 125,192 100,192 98,190 98,177" fill="#000"/>
<polygon points="101,177 124,177 125,178 125,189 124,190 101,190 100,189 100,178" fill="#fff"/>
<rect x="54" y="126" width="5" height="24" fill="#000"/>
<rect x="56" y="127" width="2" height="22" fill="#fff"/>
<rect x="54" y="208" width="5" height="23" fill="#000"/>
<rect x="56" y="209" width="2" height="21" fill="#fff"/>
<rect x="164" y="120" width="12" height="105" fill="#000"/>
<rect x="168" y="121" width="6" height="103" fill="#fff"/>
<polygon points="164,225 176,225 170,230 164,230" fill="#000"/>
<rect x="42" y="155" width="6" height="16" fill="#000"/>
<rect x="43" y="160" width="4" height="1" fill="#fff"/>
<rect x="43" y="164" width="4" height="1" fill="#fff"/>
<rect x="43" y="169" width="4" height="1" fill="#fff"/>
<rect x="44" y="166" width="2" height="2" fill="#fff"/>
<polygon points="4,155 30,155 32,157 32,168 30,170 4,170 2,168 2,157" fill="#000"/>
<polygon points="5,157 29,157 30,158 30,167 29,168 5,168 4,167 4,158" fill="#fff"/>
<rect x="37" y="161" width="5" height="2" fill="#000"/>
<polygon points="30,158 38,161 38,163 30,166" fill="#000"/>
<polygon points="30,160 35,162 30,164" fill="#fff"/>
<rect x="42" y="175" width="6" height="16" fill="#000"/>
<rect x="43" y="180" width="4" height="1" fill="#fff"/>
<rect x="43" y="184" width="4" height="1" fill="#fff"/>
<rect x="43" y="189" width="4" height="1" fill="#fff"/>
<rect x="44" y="186" width="2" height="2" fill="#fff"/>
<polygon points="4,175 30,175 32,177 32,188 30,190 4,190 2,188 2,177" fill="#000"/>
<polygon points="5,177 29,177 30,178 30,187 29,188 5,188 4,187 4,178" fill="#fff"/>
<rect x="37" y="181" width="5" height="2" fill="#000"/>
<polygon points="30,178 38,181 38,183 30,186" fill="#000"/>
<polygon points="30,180 35,182 30,184" fill="#fff"/>
<rect x="188" y="120" width="67" height="19" fill="#000"/>
<rect x="190" y="122" width="2" height="4" fill="#fff"/>
<rect x="190" y="134" width="2" height="4" fill="#fff"/>
<rect x="195" y="122" width="2" height="4" fill="#fff"/>
<rect x="195" y="134" width="2" height="4" fill="#fff"/>
<rect x="200" y="122" width="2" height="4" fill="#fff"/>
<rect x="200" y="134" width="2" height="4" fill="#fff"/>
<rect x="204" y="122" width="2" height="4" fill="#fff"/>
<rect x="204" y="134" width="2" height="4" fill="#fff"/>
<rect x="237" y="122" width="2" height="4" fill="#fff"/>
<rect x="237" y="134" width="2" height="4" fill="#fff"/>
<rect x="242" y="122" width="2" height="4" fill="#fff"/>
<rect x="242" y="134" width="2" height="4" fill="#fff"/>
<rect x="246" y="122" width="2" height="4" fill="#fff"/>
<rect x="246" y="134" width="2" height="4" fill="#fff"/>
<rect x="251" y="122" width="2" height="4" fill="#fff"/>
<rect x="251" y="134" width="2" height="4" fill="#fff"/>
<rect x="194" y="128" width="16" height="4" fill="#fff"/>
<rect x="234" y="128" width="16" height="4" fill="#fff"/>
<polygon points="188,127 190,129 188,131" fill="#fff"/>
<polygon points="212,123 232,123 234,125 234,135 232,137 212,137 210,135 210,125" fill="#000"/>
<polygon points="212,124 232,124 233,125 233,135 232,136 212,136 211,135 211,125" fill="#fff"/>
<polygon points="196,170 243,170 246,173 246,220 243,223 196,223 193,220 193,173" fill="#000"/>
<rect x="203" y="170" width="1" height="2" fill="#fff"/>
<rect x="203" y="221" width="1" height="2" fill="#fff"/>
<rect x="209" y="170" width="1" height="2" fill="#fff"/>
<rect x="209" y="221" width="1" height="2" fill="#fff"/>
<rect x="228" y="170" width="1" height="2" fill="#fff"/>
<rect x="228" y="221" width="1" height="2" fill="#fff"/>
<rect x="237" y="170" width="1" height="2" fill="#fff"/>
<rect x="237" y="221" width="1" height="2" fill="#fff"/>
<rect x="193" y="181" width="2" height="1" fill="#fff"/>
<rect x="244" y="181" width="2" height="1" fill="#fff"/>
<rect x="193" y="196" width="2" height="1" fill="#fff"/>
<rect x="244" y="196" width="2" height="1" fill="#fff"/>
<rect x="193" y="206" width="2" height="1" fill="#fff"/>
<rect x="244" y="206" width="2" height="1" fill="#fff"/>
<rect x="193" y="214" width="2" height="1" fill="#fff"/>
<rect x="244" y="214" width="2" height="1" fill="#fff"/>
<polygon points="264,169 310,169 313,172 313,219 310,222 264,222 261,219 261,172" fill="#000"/>
<rect x="270" y="169" width="1" height="2" fill="#fff"/>
<rect x="270" y="220" width="1" height="2" fill="#fff"/>
<rect x="280" y="169" width="1" height="2" fill="#fff"/>
<rect x="280" y="220" width="1" height="2" fill="#fff"/>
<rect x="290" y="169" width="1" height="2" fill="#fff"/>
<rect x="290" y="220" width="1" height="2" fill="#fff"/>
<rect x="300" y="169" width="1" height="2" fill="#fff"/>
<rect x="300" y="220" width="1" height="2" fill="#fff"/>
<rect x="261" y="180" width="2" height="1" fill="#fff"/>
<rect x="311" y="180" width="2" height="1" fill="#fff"/>
<rect x="261" y="190" width="2" height="1" fill="#fff"/>
<rect x="311" y="190" width="2" height="1" fill="#fff"/>
<rect x="261" y="201" width="2" height="1" fill="#fff"/>
<rect x="311" y="201" width="2" height="1" fill="#fff"/>
<rect x="261" y="212" width="2" height="1" fill="#fff"/>
<rect x="311" y="212" width="2" height="1" fill="#fff"/>
<polygon points="515,193 543,193 546,196 546,243 543,246 515,246 512,243 512,196" fill="#000"/>
<rect x="520" y="193" width="1" height="2" fill="#fff"/>
<rect x="520" y="244" width="1" height="2" fill="#fff"/>
<rect x="528" y="193" width="1" height="2" fill="#fff"/>
<rect x="528" y="244" width="1" height="2" fill="#fff"/>
<rect x="537" y="193" width="1" height="2" fill="#fff"/>
<rect x="537" y="244" width="1" height="2" fill="#fff"/>
<rect x="512" y="204" width="2" height="1" fill="#fff"/>
<rect x="544" y="204" width="2" height="1" fill="#fff"/>
<rect x="512" y="214" width="2" height="1" fill="#fff"/>
<rect x="544" y="214" width="2" height="1" fill="#fff"/>
<rect x="512" y="224" width="2" height="1" fill="#fff"/>
<rect x="544" y="224" width="2" height="1" fill="#fff"/>
<rect x="512" y="234" width="2" height="1" fill="#fff"/>
<rect x="544" y="234" width="2" height="1" fill="#fff"/>
<rect x="361" y="165" width="141" height="15" fill="#000"/>
<rect x="367" y="171" width="26" height="4" fill="#fff"/>
<rect x="401" y="171" width="17" height="4" fill="#fff"/>
<rect x="445" y="171" width="51" height="4" fill="#fff"/>
<rect x="420" y="167" width="23" height="11" fill="#fff"/>
<rect x="361" y="201" width="141" height="15" fill="#000"/>
<rect x="367" y="207" width="26" height="4" fill="#fff"/>
<rect x="401" y="207" width="17" height="4" fill="#fff"/>
<rect x="445" y="207" width="51" height="4" fill="#fff"/>
<rect x="420" y="203" width="23" height="11" fill="#fff"/>
<rect x="361" y="237" width="141" height="15" fill="#000"/>
<rect x="367" y="243" width="26" height="4" fill="#fff"/>
<rect x="401" y="243" width="17" height="4" fill="#fff"/>
<rect x="445" y="243" width="51" height="4" fill="#fff"/>
<rect x="420" y="239" width="23" height="11" fill="#fff"/>
<rect x="361" y="272" width="141" height="15" fill="#000"/>
<rect x="367" y="278" width="26" height="4" fill="#fff"/>
<rect x="401" y="278" width="17" height="4" fill="#fff"/>
<rect x="445" y="278" width="51" height="4" fill="#fff"/>
<rect x="420" y="274" width="23" height="11" fill="#fff"/>
<polygon points="442,184 466,184 468,186 468,196 466,198 442,198 440,196 440,186" fill="#000"/>
<polygon points="443,186 465,186 466,187 466,195 465,196 443,196 442,195 442,187" fill="#fff"/>
<rect x="472" y="190" width="7" height="2" fill="#000"/>
<polygon points="466,186 473,190 473,192 466,196" fill="#000"/>
<polygon points="466,188 470,191 466,194" fill="#fff"/>
<rect x="479" y="188" width="16" height="5" fill="#000"/>
<rect x="483" y="189" width="1" height="3" fill="#fff"/>
<rect x="487" y="189" width="1" height="3" fill="#fff"/>
<rect x="491" y="189" width="1" height="3" fill="#fff"/>
<rect x="558" y="173" width="6" height="21" fill="#000"/>
<rect x="559" y="177" width="4" height="1" fill="#fff"/>
<rect x="559" y="181" width="4" height="1" fill="#fff"/>
<rect x="559" y="185" width="4" height="1" fill="#fff"/>
<rect x="559" y="189" width="4" height="1" fill="#fff"/>
<rect x="560" y="190" width="2" height="2" fill="#fff"/>
<polygon points="577,175 595,175 597,177 597,188 595,190 577,190 575,188 575,177" fill="#000"/>
<polygon points="578,177 594,177 595,178 595,187 594,188 578,188 577,187 577,178" fill="#fff"/>
<rect x="564" y="181" width="6" height="2" fill="#000"/>
<polygon points="577,177 569,181 569,183 577,187" fill="#000"/>
<polygon points="577,179 572,182 577,185" fill="#fff"/>
<rect x="55" y="251" width="223" height="16" fill="#000"/>
<rect x="64" y="257" width="89" height="4" fill="#fff"/>
<rect x="180" y="257" width="89" height="4" fill="#fff"/>
<polygon points="156,253 177,253 178,254 178,264 177,265 156,265 155,264 155,254" fill="#fff"/>
<polygon points="71,281 104,281 108,285 108,333 104,337 71,337 67,333 67,285" fill="#000"/>
<polygon points="75,286 100,286 103,289 103,329 100,332 75,332 72,329 72,289" fill="#fff"/>
<rect x="71" y="281" width="1" height="2" fill="#fff"/>
<rect x="71" y="335" width="1" height="2" fill="#fff"/>
<rect x="74.5" y="281" width="1.0" height="2" fill="#fff"/>
<rect x="74.5" y="335" width="1.0" height="2" fill="#fff"/>
<rect x="78.0" y="281" width="1.0" height="2" fill="#fff"/>
<rect x="78.0" y="335" width="1.0" height="2" fill="#fff"/>
<rect x="81.5" y="281" width="1.0" height="2" fill="#fff"/>
<rect x="81.5" y="335" width="1.0" height="2" fill="#fff"/>
<rect x="85.0" y="281" width="1.0" height="2" fill="#fff"/>
<rect x="85.0" y="335" width="1.0" height="2" fill="#fff"/>
<rect x="88.5" y="281" width="1.0" height="2" fill="#fff"/>
<rect x="88.5" y="335" width="1.0" height="2" fill="#fff"/>
<rect x="92.0" y="281" width="1.0" height="2" fill="#fff"/>
<rect x="92.0" y="335" width="1.0" height="2" fill="#fff"/>
<rect x="95.5" y="281" width="1.0" height="2" fill="#fff"/>
<rect x="95.5" y="335" width="1.0" height="2" fill="#fff"/>
<rect x="99.0" y="281" width="1.0" height="2" fill="#fff"/>
<rect x="99.0" y="335" width="1.0" height="2" fill="#fff"/>
<rect x="102.5" y="281" width="1.0" height="2" fill="#fff"/>
<rect x="102.5" y="335" width="1.0" height="2" fill="#fff"/>
<rect x="67" y="286" width="2" height="1" fill="#fff"/>
<rect x="106" y="286" width="2" height="1" fill="#fff"/>
<rect x="67" y="290.4" width="2" height="1.0" fill="#fff"/>
<rect x="106" y="290.4" width="2" height="1.0" fill="#fff"/>
<rect x="67" y="294.79999999999995" width="2" height="1.0" fill="#fff"/>
<rect x="106" y="294.79999999999995" width="2" height="1.0" fill="#fff"/>
<rect x="67" y="299.19999999999993" width="2" height="1.0" fill="#fff"/>
<rect x="106" y="299.19999999999993" width="2" height="1.0" fill="#fff"/>
<rect x="67" y="303.5999999999999" width="2" height="1.0" fill="#fff"/>
<rect x="106" y="303.5999999999999" width="2" height="1.0" fill="#fff"/>
<rect x="67" y="307.9999999999999" width="2" height="1.0" fill="#fff"/>
<rect x="106" y="307.9999999999999" width="2" height="1.0" fill="#fff"/>
<rect x="67" y="312.39999999999986" width="2" height="1.0" fill="#fff"/>
<rect x="106" y="312.39999999999986" width="2" height="1.0" fill="#fff"/>
<rect x="67" y="316.79999999999984" width="2" height="1.0" fill="#fff"/>
<rect x="106" y="316.79999999999984" width="2" height="1.0" fill="#fff"/>
<rect x="67" y="321.1999999999998" width="2" height="1.0" fill="#fff"/>
<rect x="106" y="321.1999999999998" width="2" height="1.0" fill="#fff"/>
<rect x="67" y="325.5999999999998" width="2" height="1.0" fill="#fff"/>
<rect x="106" y="325.5999999999998" width="2" height="1.0" fill="#fff"/>
<rect x="67" y="329.9999999999998" width="2" height="1.0" fill="#fff"/>
<rect x="106" y="329.9999999999998" width="2" height="1.0" fill="#fff"/>
<polygon points="122,281 155,281 159,285 159,333 155,337 122,337 118,333 118,285" fill="#000"/>
<polygon points="125,286 151,286 154,289 154,329 151,332 125,332 122,329 122,289" fill="#fff"/>
<rect x="122" y="281" width="1" height="2" fill="#fff"/>
<rect x="122" y="335" width="1" height="2" fill="#fff"/>
<rect x="125.5" y="281" width="1.0" height="2" fill="#fff"/>
<rect x="125.5" y="335" width="1.0" height="2" fill="#fff"/>
<rect x="129.0" y="281" width="1.0" height="2" fill="#fff"/>
<rect x="129.0" y="335" width="1.0" height="2" fill="#fff"/>
<rect x="132.5" y="281" width="1.0" height="2" fill="#fff"/>
<rect x="132.5" y="335" width="1.0" height="2" fill="#fff"/>
<rect x="136.0" y="281" width="1.0" height="2" fill="#fff"/>
<rect x="136.0" y="335" width="1.0" height="2" fill="#fff"/>
<rect x="139.5" y="281" width="1.0" height="2" fill="#fff"/>
<rect x="139.5" y="335" width="1.0" height="2" fill="#fff"/>
<rect x="143.0" y="281" width="1.0" height="2" fill="#fff"/>
<rect x="143.0" y="335" width="1.0" height="2" fill="#fff"/>
<rect x="146.5" y="281" width="1.0" height="2" fill="#fff"/>
<rect x="146.5" y="335" width="1.0" height="2" fill="#fff"/>
<rect x="150.0" y="281" width="1.0" height="2" fill="#fff"/>
<rect x="150.0" y="335" width="1.0" height="2" fill="#fff"/>
<rect x="153.5" y="281" width="1.0" height="2" fill="#fff"/>
<rect x="153.5" y="335" width="1.0" height="2" fill="#fff"/>
<rect x="118" y="286" width="2" height="1" fill="#fff"/>
<rect x="157" y="286" width="2" height="1" fill="#fff"/>
<rect x="118" y="290.4" width="2" height="1.0" fill="#fff"/>
<rect x="157" y="290.4" width="2" height="1.0" fill="#fff"/>
<rect x="118" y="294.79999999999995" width="2" height="1.0" fill="#fff"/>
<rect x="157" y="294.79999999999995" width="2" height="1.0" fill="#fff"/>
<rect x="118" y="299.19999999999993" width="2" height="1.0" fill="#fff"/>
<rect x="157" y="299.19999999999993" width="2" height="1.0" fill="#fff"/>
<rect x="118" y="303.5999999999999" width="2" height="1.0" fill="#fff"/>
<rect x="157" y="303.5999999999999" width="2" height="1.0" fill="#fff"/>
<rect x="118" y="307.9999999999999" width="2" height="1.0" fill="#fff"/>
<rect x="157" y="307.9999999999999" width="2" height="1.0" fill="#fff"/>
<rect x="118" y="312.39999999999986" width="2" height="1.0" fill="#fff"/>
<rect x="157" y="312.39999999999986" width="2" height="1.0" fill="#fff"/>
<rect x="118" y="316.79999999999984" width="2" height="1.0" fill="#fff"/>
<rect x="157" y="316.79999999999984" width="2" height="1.0" fill="#fff"/>
<rect x="118" y="321.1999999999998" width="2" height="1.0" fill="#fff"/>
<rect x="157" y="321.1999999999998" width="2" height="1.0" fill="#fff"/>
<rect x="118" y="325.5999999999998" width="2" height="1.0" fill="#fff"/>
<rect x="157" y="325.5999999999998" width="2" height="1.0" fill="#fff"/>
<rect x="118" y="329.9999999999998" width="2" height="1.0" fill="#fff"/>
<rect x="157" y="329.9999999999998" width="2" height="1.0" fill="#fff"/>
<polygon points="91,302 135,302 137,304 137,315 135,317 91,317 89,315 89,304" fill="#000"/>
<polygon points="92,304 134,304 135,305 135,314 134,315 92,315 91,314 91,305" fill="#fff"/>
<line x1="65.5" y1="334" x2="68.5" y2="340.5" stroke="#000" stroke-width="1"/>
<line x1="68" y1="340.5" x2="111" y2="340.5" stroke="#000" stroke-width="1"/>
<line x1="117" y1="340.5" x2="159" y2="340.5" stroke="#000" stroke-width="1"/>
<line x1="159" y1="340.5" x2="162" y2="334" stroke="#000" stroke-width="1"/>
<line x1="111" y1="340.5" x2="114" y2="345.5" stroke="#000" stroke-width="1"/>
<line x1="117" y1="340.5" x2="114" y2="345.5" stroke="#000" stroke-width="1"/>
<polygon points="96,345 133,345 135,347 135,358 133,360 96,360 94,358 94,347" fill="#000"/>
<polygon points="97,347 132,347 133,348 133,357 132,358 97,358 96,357 96,348" fill="#fff"/>
<polygon points="71,362 100,362 103,365 103,412 100,415 71,415 68,412 68,365" fill="#000"/>
<rect x="73" y="362" width="1" height="2" fill="#fff"/>
<rect x="73" y="413" width="1" height="2" fill="#fff"/>
<rect x="83" y="362" width="1" height="2" fill="#fff"/>
<rect x="83" y="413" width="1" height="2" fill="#fff"/>
<rect x="92" y="362" width="1" height="2" fill="#fff"/>
<rect x="92" y="413" width="1" height="2" fill="#fff"/>
<rect x="68" y="380" width="3" height="1" fill="#fff"/>
<rect x="100" y="380" width="3" height="1" fill="#fff"/>
<rect x="68" y="389" width="3" height="1" fill="#fff"/>
<rect x="100" y="389" width="3" height="1" fill="#fff"/>
<rect x="68" y="398" width="3" height="1" fill="#fff"/>
<rect x="100" y="398" width="3" height="1" fill="#fff"/>
<polygon points="123,363 152,363 155,366 155,413 152,416 123,416 120,413 120,366" fill="#000"/>
<rect x="125" y="363" width="1" height="2" fill="#fff"/>
<rect x="125" y="414" width="1" height="2" fill="#fff"/>
<rect x="135" y="363" width="1" height="2" fill="#fff"/>
<rect x="135" y="414" width="1" height="2" fill="#fff"/>
<rect x="144" y="363" width="1" height="2" fill="#fff"/>
<rect x="144" y="414" width="1" height="2" fill="#fff"/>
<rect x="120" y="381" width="3" height="1" fill="#fff"/>
<rect x="152" y="381" width="3" height="1" fill="#fff"/>
<rect x="120" y="390" width="3" height="1" fill="#fff"/>
<rect x="152" y="390" width="3" height="1" fill="#fff"/>
<rect x="120" y="399" width="3" height="1" fill="#fff"/>
<rect x="152" y="399" width="3" height="1" fill="#fff"/>
<rect x="180" y="348" width="15" height="11" fill="#000"/>
<rect x="181" y="353" width="13" height="1" fill="#fff"/>
<rect x="185" y="349" width="1" height="9" fill="#fff"/>
<rect x="189" y="349" width="1" height="9" fill="#fff"/>
<rect x="182" y="355" width="2" height="2" fill="#fff"/>
<polygon points="209,346 234,346 236,348 236,359 234,361 209,361 207,359 207,348" fill="#000"/>
<polygon points="210,348 233,348 234,349 234,358 233,359 210,359 209,358 209,349" fill="#fff"/>
<rect x="195" y="352" width="6" height="2" fill="#000"/>
<polygon points="209,348 200,352 200,354 209,358" fill="#000"/>
<polygon points="209,350 203,353 209,356" fill="#fff"/>
<rect x="273" y="337" width="222" height="13" fill="#000"/>
<rect x="274" y="338" width="5" height="4" fill="#fff"/>
<rect x="274" y="343" width="5" height="3" fill="#fff"/>
<rect x="274" y="347" width="5" height="2" fill="#fff"/>
<rect x="282" y="338" width="5" height="3" fill="#fff"/>
<rect x="282" y="341" width="8" height="6" fill="#fff"/>
<rect x="284" y="341" width="4" height="2" fill="#000"/>
<rect x="288" y="338" width="3" height="10" fill="#fff"/>
<rect x="282" y="348" width="11" height="1" fill="#fff"/>
<rect x="489" y="338" width="5" height="4" fill="#fff"/>
<rect x="489" y="343" width="5" height="3" fill="#fff"/>
<rect x="489" y="347" width="5" height="2" fill="#fff"/>
<rect x="481" y="338" width="5" height="3" fill="#fff"/>
<rect x="478" y="341" width="8" height="6" fill="#fff"/>
<rect x="480" y="341" width="4" height="2" fill="#000"/>
<rect x="477" y="338" width="3" height="10" fill="#fff"/>
<rect x="475" y="348" width="11" height="1" fill="#fff"/>
<rect x="292" y="338" width="184" height="1" fill="#fff"/>
<rect x="292" y="348" width="184" height="1" fill="#fff"/>
<rect x="296" y="343" width="1" height="3" fill="#fff"/>
<rect x="298" y="343" width="1" height="3" fill="#fff"/>
<rect x="300" y="343" width="1" height="3" fill="#fff"/>
<rect x="302" y="343" width="1" height="3" fill="#fff"/>
<rect x="304" y="343" width="1" height="3" fill="#fff"/>
<rect x="313" y="343" width="1" height="3" fill="#fff"/>
<rect x="315" y="343" width="1" height="3" fill="#fff"/>
<rect x="317" y="343" width="1" height="3" fill="#fff"/>
<rect x="319" y="343" width="1" height="3" fill="#fff"/>
<rect x="321" y="343" width="1" height="3" fill="#fff"/>
<rect x="330" y="343" width="1" height="3" fill="#fff"/>
<rect x="332" y="343" width="1" height="3" fill="#fff"/>
<rect x="334" y="343" width="1" height="3" fill="#fff"/>
<rect x="343" y="343" width="1" height="3" fill="#fff"/>
<rect x="345" y="343" width="1" height="3" fill="#fff"/>
<rect x="347" y="343" width="1" height="3" fill="#fff"/>
<rect x="349" y="343" width="1" height="3" fill="#fff"/>
<rect x="352" y="343" width="1" height="3" fill="#fff"/>
<rect x="354" y="343" width="1" height="3" fill="#fff"/>
<rect x="356" y="343" width="1" height="3" fill="#fff"/>
<rect x="411" y="343" width="1" height="3" fill="#fff"/>
<rect x="413" y="343" width="1" height="3" fill="#fff"/>
<rect x="415" y="343" width="1" height="3" fill="#fff"/>
<rect x="417" y="343" width="1" height="3" fill="#fff"/>
<rect x="419" y="343" width="1" height="3" fill="#fff"/>
<rect x="444" y="343" width="1" height="3" fill="#fff"/>
<rect x="446" y="343" width="1" height="3" fill="#fff"/>
<rect x="448" y="343" width="1" height="3" fill="#fff"/>
<rect x="450" y="343" width="1" height="3" fill="#fff"/>
<rect x="457" y="343" width="1" height="3" fill="#fff"/>
<rect x="459" y="343" width="1" height="3" fill="#fff"/>
<rect x="461" y="343" width="1" height="3" fill="#fff"/>
<rect x="463" y="343" width="1" height="3" fill="#fff"/>
<rect x="465" y="343" width="1" height="3" fill="#fff"/>
<rect x="470" y="343" width="1" height="3" fill="#fff"/>
<rect x="472" y="343" width="1" height="3" fill="#fff"/>
<rect x="474" y="343" width="1" height="3" fill="#fff"/>
<rect x="273" y="351" width="222" height="12" fill="#000"/>
<rect x="274" y="352" width="5" height="4" fill="#fff"/>
<rect x="274" y="357" width="5" height="3" fill="#fff"/>
<rect x="274" y="361" width="5" height="1" fill="#fff"/>
<rect x="282" y="352" width="5" height="3" fill="#fff"/>
<rect x="282" y="355" width="8" height="6" fill="#fff"/>
<rect x="284" y="355" width="4" height="2" fill="#000"/>
<rect x="288" y="352" width="3" height="9" fill="#fff"/>
<rect x="282" y="361" width="11" height="1" fill="#fff"/>
<rect x="489" y="352" width="5" height="4" fill="#fff"/>
<rect x="489" y="357" width="5" height="3" fill="#fff"/>
<rect x="489" y="361" width="5" height="1" fill="#fff"/>
<rect x="481" y="352" width="5" height="3" fill="#fff"/>
<rect x="478" y="355" width="8" height="6" fill="#fff"/>
<rect x="480" y="355" width="4" height="2" fill="#000"/>
<rect x="477" y="352" width="3" height="9" fill="#fff"/>
<rect x="475" y="361" width="11" height="1" fill="#fff"/>
<rect x="292" y="352" width="184" height="1" fill="#fff"/>
<rect x="292" y="361" width="184" height="1" fill="#fff"/>
<rect x="296" y="357" width="1" height="3" fill="#fff"/>
<rect x="296" y="361" width="1" height="1" fill="#fff"/>
<rect x="298" y="357" width="1" height="3" fill="#fff"/>
<rect x="300" y="357" width="1" height="3" fill="#fff"/>
<rect x="300" y="361" width="1" height="1" fill="#fff"/>
<rect x="302" y="357" width="1" height="3" fill="#fff"/>
<rect x="304" y="357" width="1" height="3" fill="#fff"/>
<rect x="304" y="361" width="1" height="1" fill="#fff"/>
<rect x="313" y="357" width="1" height="3" fill="#fff"/>
<rect x="313" y="361" width="1" height="1" fill="#fff"/>
<rect x="315" y="357" width="1" height="3" fill="#fff"/>
<rect x="317" y="357" width="1" height="3" fill="#fff"/>
<rect x="317" y="361" width="1" height="1" fill="#fff"/>
<rect x="319" y="357" width="1" height="3" fill="#fff"/>
<rect x="321" y="357" width="1" height="3" fill="#fff"/>
<rect x="321" y="361" width="1" height="1" fill="#fff"/>
<rect x="330" y="357" width="1" height="3" fill="#fff"/>
<rect x="330" y="361" width="1" height="1" fill="#fff"/>
<rect x="332" y="357" width="1" height="3" fill="#fff"/>
<rect x="334" y="357" width="1" height="3" fill="#fff"/>
<rect x="334" y="361" width="1" height="1" fill="#fff"/>
<rect x="343" y="357" width="1" height="3" fill="#fff"/>
<rect x="343" y="361" width="1" height="1" fill="#fff"/>
<rect x="345" y="357" width="1" height="3" fill="#fff"/>
<rect x="347" y="357" width="1" height="3" fill="#fff"/>
<rect x="347" y="361" width="1" height="1" fill="#fff"/>
<rect x="349" y="357" width="1" height="3" fill="#fff"/>
<rect x="352" y="357" width="1" height="3" fill="#fff"/>
<rect x="352" y="361" width="1" height="1" fill="#fff"/>
<rect x="354" y="357" width="1" height="3" fill="#fff"/>
<rect x="356" y="357" width="1" height="3" fill="#fff"/>
<rect x="356" y="361" width="1" height="1" fill="#fff"/>
<rect x="411" y="357" width="1" height="3" fill="#fff"/>
<rect x="411" y="361" width="1" height="1" fill="#fff"/>
<rect x="413" y="357" width="1" height="3" fill="#fff"/>
<rect x="415" y="357" width="1" height="3" fill="#fff"/>
<rect x="415" y="361" width="1" height="1" fill="#fff"/>
<rect x="417" y="357" width="1" height="3" fill="#fff"/>
<rect x="419" y="357" width="1" height="3" fill="#fff"/>
<rect x="419" y="361" width="1" height="1" fill="#fff"/>
<rect x="444" y="357" width="1" height="3" fill="#fff"/>
<rect x="444" y="361" width="1" height="1" fill="#fff"/>
<rect x="446" y="357" width="1" height="3" fill="#fff"/>
<rect x="448" y="357" width="1" height="3" fill="#fff"/>
<rect x="448" y="361" width="1" height="1" fill="#fff"/>
<rect x="450" y="357" width="1" height="3" fill="#fff"/>
<rect x="457" y="357" width="1" height="3" fill="#fff"/>
<rect x="457" y="361" width="1" height="1" fill="#fff"/>
<rect x="459" y="357" width="1" height="3" fill="#fff"/>
<rect x="461" y="357" width="1" height="3" fill="#fff"/>
<rect x="461" y="361" width="1" height="1" fill="#fff"/>
<rect x="463" y="357" width="1" height="3" fill="#fff"/>
<rect x="465" y="357" width="1" height="3" fill="#fff"/>
<rect x="465" y="361" width="1" height="1" fill="#fff"/>
<rect x="470" y="357" width="1" height="3" fill="#fff"/>
<rect x="470" y="361" width="1" height="1" fill="#fff"/>
<rect x="472" y="357" width="1" height="3" fill="#fff"/>
<rect x="474" y="357" width="1" height="3" fill="#fff"/>
<rect x="474" y="361" width="1" height="1" fill="#fff"/>
<rect x="273" y="364" width="222" height="12" fill="#000"/>
<rect x="274" y="365" width="5" height="4" fill="#fff"/>
<rect x="274" y="370" width="5" height="3" fill="#fff"/>
<rect x="274" y="374" width="5" height="1" fill="#fff"/>
<rect x="282" y="365" width="5" height="3" fill="#fff"/>
<rect x="282" y="368" width="8" height="6" fill="#fff"/>
<rect x="284" y="368" width="4" height="2" fill="#000"/>
<rect x="288" y="365" width="3" height="9" fill="#fff"/>
<rect x="282" y="374" width="11" height="1" fill="#fff"/>
<rect x="489" y="365" width="5" height="4" fill="#fff"/>
<rect x="489" y="370" width="5" height="3" fill="#fff"/>
<rect x="489" y="374" width="5" height="1" fill="#fff"/>
<rect x="481" y="365" width="5" height="3" fill="#fff"/>
<rect x="478" y="368" width="8" height="6" fill="#fff"/>
<rect x="480" y="368" width="4" height="2" fill="#000"/>
<rect x="477" y="365" width="3" height="9" fill="#fff"/>
<rect x="475" y="374" width="11" height="1" fill="#fff"/>
<rect x="292" y="365" width="184" height="1" fill="#fff"/>
<rect x="292" y="374" width="184" height="1" fill="#fff"/>
<rect x="296" y="370" width="1" height="3" fill="#fff"/>
<rect x="298" y="370" width="1" height="3" fill="#fff"/>
<rect x="300" y="370" width="1" height="3" fill="#fff"/>
<rect x="302" y="370" width="1" height="3" fill="#fff"/>
<rect x="304" y="370" width="1" height="3" fill="#fff"/>
<rect x="313" y="370" width="1" height="3" fill="#fff"/>
<rect x="315" y="370" width="1" height="3" fill="#fff"/>
<rect x="317" y="370" width="1" height="3" fill="#fff"/>
<rect x="319" y="370" width="1" height="3" fill="#fff"/>
<rect x="321" y="370" width="1" height="3" fill="#fff"/>
<rect x="330" y="370" width="1" height="3" fill="#fff"/>
<rect x="332" y="370" width="1" height="3" fill="#fff"/>
<rect x="334" y="370" width="1" height="3" fill="#fff"/>
<rect x="343" y="370" width="1" height="3" fill="#fff"/>
<rect x="345" y="370" width="1" height="3" fill="#fff"/>
<rect x="347" y="370" width="1" height="3" fill="#fff"/>
<rect x="349" y="370" width="1" height="3" fill="#fff"/>
<rect x="352" y="370" width="1" height="3" fill="#fff"/>
<rect x="354" y="370" width="1" height="3" fill="#fff"/>
<rect x="356" y="370" width="1" height="3" fill="#fff"/>
<rect x="411" y="370" width="1" height="3" fill="#fff"/>
<rect x="413" y="370" width="1" height="3" fill="#fff"/>
<rect x="415" y="370" width="1" height="3" fill="#fff"/>
<rect x="417" y="370" width="1" height="3" fill="#fff"/>
<rect x="419" y="370" width="1" height="3" fill="#fff"/>
<rect x="444" y="370" width="1" height="3" fill="#fff"/>
<rect x="446" y="370" width="1" height="3" fill="#fff"/>
<rect x="448" y="370" width="1" height="3" fill="#fff"/>
<rect x="450" y="370" width="1" height="3" fill="#fff"/>
<rect x="457" y="370" width="1" height="3" fill="#fff"/>
<rect x="459" y="370" width="1" height="3" fill="#fff"/>
<rect x="461" y="370" width="1" height="3" fill="#fff"/>
<rect x="463" y="370" width="1" height="3" fill="#fff"/>
<rect x="465" y="370" width="1" height="3" fill="#fff"/>
<rect x="470" y="370" width="1" height="3" fill="#fff"/>
<rect x="472" y="370" width="1" height="3" fill="#fff"/>
<rect x="474" y="370" width="1" height="3" fill="#fff"/>
<rect x="273" y="378" width="222" height="12" fill="#000"/>
<rect x="274" y="379" width="5" height="4" fill="#fff"/>
<rect x="274" y="384" width="5" height="3" fill="#fff"/>
<rect x="274" y="388" width="5" height="1" fill="#fff"/>
<rect x="282" y="379" width="5" height="3" fill="#fff"/>
<rect x="282" y="382" width="8" height="6" fill="#fff"/>
<rect x="284" y="382" width="4" height="2" fill="#000"/>
<rect x="288" y="379" width="3" height="9" fill="#fff"/>
<rect x="282" y="388" width="11" height="1" fill="#fff"/>
<rect x="489" y="379" width="5" height="4" fill="#fff"/>
<rect x="489" y="384" width="5" height="3" fill="#fff"/>
<rect x="489" y="388" width="5" height="1" fill="#fff"/>
<rect x="481" y="379" width="5" height="3" fill="#fff"/>
<rect x="478" y="382" width="8" height="6" fill="#fff"/>
<rect x="480" y="382" width="4" height="2" fill="#000"/>
<rect x="477" y="379" width="3" height="9" fill="#fff"/>
<rect x="475" y="388" width="11" height="1" fill="#fff"/>
<rect x="292" y="379" width="184" height="1" fill="#fff"/>
<rect x="292" y="388" width="184" height="1" fill="#fff"/>
<rect x="296" y="384" width="1" height="3" fill="#fff"/>
<rect x="296" y="388" width="1" height="1" fill="#fff"/>
<rect x="298" y="384" width="1" height="3" fill="#fff"/>
<rect x="300" y="384" width="1" height="3" fill="#fff"/>
<rect x="300" y="388" width="1" height="1" fill="#fff"/>
<rect x="302" y="384" width="1" height="3" fill="#fff"/>
<rect x="304" y="384" width="1" height="3" fill="#fff"/>
<rect x="304" y="388" width="1" height="1" fill="#fff"/>
<rect x="313" y="384" width="1" height="3" fill="#fff"/>
<rect x="313" y="388" width="1" height="1" fill="#fff"/>
<rect x="315" y="384" width="1" height="3" fill="#fff"/>
<rect x="317" y="384" width="1" height="3" fill="#fff"/>
<rect x="317" y="388" width="1" height="1" fill="#fff"/>
<rect x="319" y="384" width="1" height="3" fill="#fff"/>
<rect x="321" y="384" width="1" height="3" fill="#fff"/>
<rect x="321" y="388" width="1" height="1" fill="#fff"/>
<rect x="330" y="384" width="1" height="3" fill="#fff"/>
<rect x="330" y="388" width="1" height="1" fill="#fff"/>
<rect x="332" y="384" width="1" height="3" fill="#fff"/>
<rect x="334" y="384" width="1" height="3" fill="#fff"/>
<rect x="334" y="388" width="1" height="1" fill="#fff"/>
<rect x="343" y="384" width="1" height="3" fill="#fff"/>
<rect x="343" y="388" width="1" height="1" fill="#fff"/>
<rect x="345" y="384" width="1" height="3" fill="#fff"/>
<rect x="347" y="384" width="1" height="3" fill="#fff"/>
<rect x="347" y="388" width="1" height="1" fill="#fff"/>
<rect x="349" y="384" width="1" height="3" fill="#fff"/>
<rect x="352" y="384" width="1" height="3" fill="#fff"/>
<rect x="352" y="388" width="1" height="1" fill="#fff"/>
<rect x="354" y="384" width="1" height="3" fill="#fff"/>
<rect x="356" y="384" width="1" height="3" fill="#fff"/>
<rect x="356" y="388" width="1" height="1" fill="#fff"/>
<rect x="411" y="384" width="1" height="3" fill="#fff"/>
<rect x="411" y="388" width="1" height="1" fill="#fff"/>
<rect x="413" y="384" width="1" height="3" fill="#fff"/>
<rect x="415" y="384" width="1" height="3" fill="#fff"/>
<rect x="415" y="388" width="1" height="1" fill="#fff"/>
<rect x="417" y="384" width="1" height="3" fill="#fff"/>
<rect x="419" y="384" width="1" height="3" fill="#fff"/>
<rect x="419" y="388" width="1" height="1" fill="#fff"/>
<rect x="444" y="384" width="1" height="3" fill="#fff"/>
<rect x="444" y="388" width="1" height="1" fill="#fff"/>
<rect x="446" y="384" width="1" height="3" fill="#fff"/>
<rect x="448" y="384" width="1" height="3" fill="#fff"/>
<rect x="448" y="388" width="1" height="1" fill="#fff"/>
<rect x="450" y="384" width="1" height="3" fill="#fff"/>
<rect x="457" y="384" width="1" height="3" fill="#fff"/>
<rect x="457" y="388" width="1" height="1" fill="#fff"/>
<rect x="459" y="384" width="1" height="3" fill="#fff"/>
<rect x="461" y="384" width="1" height="3" fill="#fff"/>
<rect x="461" y="388" width="1" height="1" fill="#fff"/>
<rect x="463" y="384" width="1" height="3" fill="#fff"/>
<rect x="465" y="384" width="1" height="3" fill="#fff"/>
<rect x="465" y="388" width="1" height="1" fill="#fff"/>
<rect x="470" y="384" width="1" height="3" fill="#fff"/>
<rect x="470" y="388" width="1" height="1" fill="#fff"/>
<rect x="472" y="384" width="1" height="3" fill="#fff"/>
<rect x="474" y="384" width="1" height="3" fill="#fff"/>
<rect x="474" y="388" width="1" height="1" fill="#fff"/>
<rect x="380" y="337" width="6" height="6" fill="#fff"/>
<rect x="380" y="358" width="6" height="5" fill="#fff"/>
<rect x="380" y="364" width="6" height="6" fill="#fff"/>
<rect x="380" y="385" width="6" height="5" fill="#fff"/>
<rect x="255" y="394" width="257" height="14" fill="#000"/>
<rect x="256" y="395" width="5" height="4" fill="#fff"/>
<rect x="256" y="400" width="5" height="3" fill="#fff"/>
<rect x="256" y="404" width="5" height="3" fill="#fff"/>
<rect x="264" y="395" width="5" height="3" fill="#fff"/>
<rect x="264" y="398" width="8" height="6" fill="#fff"/>
<rect x="266" y="398" width="4" height="2" fill="#000"/>
<rect x="270" y="395" width="3" height="11" fill="#fff"/>
<rect x="264" y="406" width="11" height="1" fill="#fff"/>
<rect x="506" y="395" width="5" height="4" fill="#fff"/>
<rect x="506" y="400" width="5" height="3" fill="#fff"/>
<rect x="506" y="404" width="5" height="3" fill="#fff"/>
<rect x="498" y="395" width="5" height="3" fill="#fff"/>
<rect x="495" y="398" width="8" height="6" fill="#fff"/>
<rect x="497" y="398" width="4" height="2" fill="#000"/>
<rect x="494" y="395" width="3" height="11" fill="#fff"/>
<rect x="492" y="406" width="11" height="1" fill="#fff"/>
<rect x="274" y="395" width="219" height="1" fill="#fff"/>
<rect x="274" y="406" width="219" height="1" fill="#fff"/>
<rect x="279" y="397" width="1" height="3" fill="#fff"/>
<rect x="279" y="401" width="1" height="1" fill="#fff"/>
<rect x="281" y="397" width="1" height="3" fill="#fff"/>
<rect x="283" y="397" width="1" height="3" fill="#fff"/>
<rect x="283" y="401" width="1" height="1" fill="#fff"/>
<rect x="285" y="397" width="1" height="3" fill="#fff"/>
<rect x="287" y="397" width="1" height="3" fill="#fff"/>
<rect x="287" y="401" width="1" height="1" fill="#fff"/>
<rect x="305" y="397" width="1" height="3" fill="#fff"/>
<rect x="305" y="401" width="1" height="1" fill="#fff"/>
<rect x="307" y="397" width="1" height="3" fill="#fff"/>
<rect x="309" y="397" width="1" height="3" fill="#fff"/>
<rect x="309" y="401" width="1" height="1" fill="#fff"/>
<rect x="311" y="397" width="1" height="3" fill="#fff"/>
<rect x="321" y="397" width="1" height="3" fill="#fff"/>
<rect x="321" y="401" width="1" height="1" fill="#fff"/>
<rect x="323" y="397" width="1" height="3" fill="#fff"/>
<rect x="332" y="397" width="1" height="3" fill="#fff"/>
<rect x="332" y="401" width="1" height="1" fill="#fff"/>
<rect x="334" y="397" width="1" height="3" fill="#fff"/>
<rect x="336" y="397" width="1" height="3" fill="#fff"/>
<rect x="336" y="401" width="1" height="1" fill="#fff"/>
<rect x="338" y="397" width="1" height="3" fill="#fff"/>
<rect x="340" y="397" width="1" height="3" fill="#fff"/>
<rect x="340" y="401" width="1" height="1" fill="#fff"/>
<rect x="343" y="397" width="1" height="3" fill="#fff"/>
<rect x="343" y="401" width="1" height="1" fill="#fff"/>
<rect x="345" y="397" width="1" height="3" fill="#fff"/>
<rect x="347" y="397" width="1" height="3" fill="#fff"/>
<rect x="347" y="401" width="1" height="1" fill="#fff"/>
<rect x="349" y="397" width="1" height="3" fill="#fff"/>
<rect x="351" y="397" width="1" height="3" fill="#fff"/>
<rect x="351" y="401" width="1" height="1" fill="#fff"/>
<rect x="353" y="397" width="1" height="3" fill="#fff"/>
<rect x="355" y="397" width="1" height="3" fill="#fff"/>
<rect x="355" y="401" width="1" height="1" fill="#fff"/>
<rect x="359" y="397" width="1" height="3" fill="#fff"/>
<rect x="359" y="401" width="1" height="1" fill="#fff"/>
<rect x="361" y="397" width="1" height="3" fill="#fff"/>
<rect x="410" y="397" width="1" height="3" fill="#fff"/>
<rect x="410" y="401" width="1" height="1" fill="#fff"/>
<rect x="412" y="397" width="1" height="3" fill="#fff"/>
<rect x="414" y="397" width="1" height="3" fill="#fff"/>
<rect x="414" y="401" width="1" height="1" fill="#fff"/>
<rect x="416" y="397" width="1" height="3" fill="#fff"/>
<rect x="418" y="397" width="1" height="3" fill="#fff"/>
<rect x="418" y="401" width="1" height="1" fill="#fff"/>
<rect x="434" y="397" width="1" height="3" fill="#fff"/>
<rect x="434" y="401" width="1" height="1" fill="#fff"/>
<rect x="436" y="397" width="1" height="3" fill="#fff"/>
<rect x="438" y="397" width="1" height="3" fill="#fff"/>
<rect x="438" y="401" width="1" height="1" fill="#fff"/>
<rect x="440" y="397" width="1" height="3" fill="#fff"/>
<rect x="450" y="397" width="1" height="3" fill="#fff"/>
<rect x="450" y="401" width="1" height="1" fill="#fff"/>
<rect x="452" y="397" width="1" height="3" fill="#fff"/>
<rect x="454" y="397" width="1" height="3" fill="#fff"/>
<rect x="454" y="401" width="1" height="1" fill="#fff"/>
<rect x="456" y="397" width="1" height="3" fill="#fff"/>
<rect x="472" y="397" width="1" height="3" fill="#fff"/>
<rect x="472" y="401" width="1" height="1" fill="#fff"/>
<rect x="474" y="397" width="1" height="3" fill="#fff"/>
<rect x="476" y="397" width="1" height="3" fill="#fff"/>
<rect x="476" y="401" width="1" height="1" fill="#fff"/>
<rect x="478" y="397" width="1" height="3" fill="#fff"/>
<rect x="480" y="397" width="1" height="3" fill="#fff"/>
<rect x="480" y="401" width="1" height="1" fill="#fff"/>
<rect x="488" y="397" width="1" height="3" fill="#fff"/>
<rect x="488" y="401" width="1" height="1" fill="#fff"/>
<rect x="490" y="397" width="1" height="3" fill="#fff"/>
<rect x="492" y="397" width="1" height="3" fill="#fff"/>
<rect x="492" y="401" width="1" height="1" fill="#fff"/>
<rect x="458" y="395" width="4" height="12" fill="#fff"/>
<polygon points="362,344 405,344 406,345 406,355 405,356 362,356 361,355 361,345" fill="#fff"/>
<polygon points="362,371 405,371 406,372 406,382 405,383 362,383 361,382 361,372" fill="#fff"/>
<polygon points="362,394 405,394 407,396 407,407 405,409 362,409 360,407 360,396" fill="#000"/>
<polygon points="363,396 404,396 405,397 405,406 404,407 363,407 362,406 362,397" fill="#fff"/>
<rect x="331" y="294" width="95" height="10" fill="#000"/>
<rect x="332" y="299" width="93" height="1" fill="#fff"/>
<rect x="332" y="296" width="1" height="6" fill="#fff"/>
<rect x="337" y="296" width="1" height="6" fill="#fff"/>
<rect x="341" y="296" width="1" height="6" fill="#fff"/>
<rect x="346" y="296" width="1" height="6" fill="#fff"/>
<rect x="355" y="296" width="1" height="6" fill="#fff"/>
<rect x="360" y="296" width="1" height="6" fill="#fff"/>
<rect x="364" y="296" width="1" height="6" fill="#fff"/>
<rect x="369" y="296" width="1" height="6" fill="#fff"/>
<rect x="373" y="296" width="1" height="6" fill="#fff"/>
<rect x="378" y="296" width="1" height="6" fill="#fff"/>
<rect x="383" y="296" width="1" height="6" fill="#fff"/>
<rect x="388" y="296" width="1" height="6" fill="#fff"/>
<rect x="397" y="296" width="1" height="6" fill="#fff"/>
<rect x="402" y="296" width="1" height="6" fill="#fff"/>
<rect x="406" y="296" width="1" height="6" fill="#fff"/>
<rect x="411" y="296" width="1" height="6" fill="#fff"/>
<rect x="416" y="296" width="1" height="6" fill="#fff"/>
<rect x="422" y="297" width="2" height="2" fill="#fff"/>
<polygon points="293,291 318,291 320,293 320,304 318,306 293,306 291,304 291,293" fill="#000"/>
<polygon points="294,293 317,293 318,294 318,303 317,304 294,304 293,303 293,294" fill="#fff"/>
<rect x="325" y="297" width="6" height="2" fill="#000"/>
<polygon points="318,293 326,297 326,299 318,303" fill="#000"/>
<polygon points="318,295 323,298 318,301" fill="#fff"/>
<rect x="331" y="311" width="95" height="11" fill="#000"/>
<rect x="332" y="316" width="93" height="1" fill="#fff"/>
<rect x="332" y="313" width="1" height="7" fill="#fff"/>
<rect x="337" y="313" width="1" height="7" fill="#fff"/>
<rect x="341" y="313" width="1" height="7" fill="#fff"/>
<rect x="346" y="313" width="1" height="7" fill="#fff"/>
<rect x="355" y="313" width="1" height="7" fill="#fff"/>
<rect x="360" y="313" width="1" height="7" fill="#fff"/>
<rect x="364" y="313" width="1" height="7" fill="#fff"/>
<rect x="369" y="313" width="1" height="7" fill="#fff"/>
<rect x="373" y="313" width="1" height="7" fill="#fff"/>
<rect x="378" y="313" width="1" height="7" fill="#fff"/>
<rect x="383" y="313" width="1" height="7" fill="#fff"/>
<rect x="388" y="313" width="1" height="7" fill="#fff"/>
<rect x="397" y="313" width="1" height="7" fill="#fff"/>
<rect x="402" y="313" width="1" height="7" fill="#fff"/>
<rect x="406" y="313" width="1" height="7" fill="#fff"/>
<rect x="411" y="313" width="1" height="7" fill="#fff"/>
<rect x="416" y="313" width="1" height="7" fill="#fff"/>
<rect x="422" y="314" width="2" height="2" fill="#fff"/>
<polygon points="293,309 318,309 320,311 320,322 318,324 293,324 291,322 291,311" fill="#000"/>
<polygon points="294,311 317,311 318,312 318,321 317,322 294,322 293,321 293,312" fill="#fff"/>
<rect x="325" y="315" width="6" height="2" fill="#000"/>
<polygon points="318,311 326,315 326,317 318,321" fill="#000"/>
<polygon points="318,313 323,316 318,319" fill="#fff"/>
<rect x="451" y="294" width="62" height="11" fill="#000"/>
<rect x="452" y="299" width="60" height="1" fill="#fff"/>
<rect x="456" y="296" width="1" height="7" fill="#fff"/>
<rect x="466" y="296" width="1" height="7" fill="#fff"/>
<rect x="470" y="296" width="1" height="7" fill="#fff"/>
<rect x="479" y="296" width="1" height="7" fill="#fff"/>
<rect x="483" y="296" width="1" height="7" fill="#fff"/>
<rect x="488" y="296" width="1" height="7" fill="#fff"/>
<rect x="493" y="296" width="1" height="7" fill="#fff"/>
<rect x="498" y="296" width="1" height="7" fill="#fff"/>
<rect x="502" y="296" width="1" height="7" fill="#fff"/>
<rect x="509" y="297" width="2" height="2" fill="#fff"/>
<polygon points="460,266 484,266 486,268 486,279 484,281 460,281 458,279 458,268" fill="#000"/>
<polygon points="461,268 483,268 484,269 484,278 483,279 461,279 460,278 460,269" fill="#fff"/>
<polygon points="470,279 473,279 472,294 471,294" fill="#000"/>
<rect x="470" y="283" width="3" height="11" fill="#000"/>
<rect x="517" y="294" width="25" height="11" fill="#000"/>
<rect x="518" y="299" width="23" height="1" fill="#fff"/>
<rect x="519" y="296" width="1" height="7" fill="#fff"/>
<rect x="522" y="296" width="1" height="7" fill="#fff"/>
<rect x="527" y="296" width="1" height="7" fill="#fff"/>
<rect x="537" y="296" width="1" height="7" fill="#fff"/>
<rect x="538" y="297" width="2" height="2" fill="#fff"/>
<polygon points="549,282 573,282 575,284 575,295 573,297 549,297 547,295 547,284" fill="#000"/>
<polygon points="550,284 572,284 573,285 573,294 572,295 550,295 549,294 549,285" fill="#fff"/>
<polygon points="548,294 551,294 543,303 541,301" fill="#000"/>
<rect x="432" y="311" width="81" height="11" fill="#000"/>
<rect x="433" y="312" width="1" height="9" fill="#fff"/>
<rect x="433" y="317" width="79" height="1" fill="#fff"/>
<rect x="433" y="320" width="79" height="1" fill="#fff"/>
<rect x="438" y="312" width="1" height="9" fill="#fff"/>
<rect x="443" y="312" width="1" height="9" fill="#fff"/>
<rect x="447" y="312" width="1" height="9" fill="#fff"/>
<rect x="452" y="312" width="1" height="9" fill="#fff"/>
<rect x="456" y="312" width="1" height="9" fill="#fff"/>
<rect x="461" y="312" width="1" height="9" fill="#fff"/>
<rect x="466" y="312" width="1" height="9" fill="#fff"/>
<rect x="471" y="312" width="1" height="9" fill="#fff"/>
<rect x="480" y="312" width="1" height="9" fill="#fff"/>
<rect x="484" y="312" width="1" height="9" fill="#fff"/>
<rect x="489" y="312" width="1" height="9" fill="#fff"/>
<rect x="493" y="312" width="1" height="9" fill="#fff"/>
<rect x="498" y="312" width="1" height="9" fill="#fff"/>
<rect x="502" y="312" width="1" height="9" fill="#fff"/>
<rect x="506" y="312" width="1" height="9" fill="#fff"/>
<rect x="508" y="313" width="2" height="2" fill="#fff"/>
<polygon points="471,334 494,334 496,336 496,347 494,349 471,349 469,347 469,336" fill="#000"/>
<polygon points="472,336 493,336 494,337 494,346 493,347 472,347 471,346 471,337" fill="#fff"/>
<polygon points="481,322 484,322 485,334 480,334" fill="#000"/>
<rect x="517" y="311" width="25" height="11" fill="#000"/>
<rect x="518" y="316" width="23" height="1" fill="#fff"/>
<rect x="519" y="313" width="1" height="7" fill="#fff"/>
<rect x="522" y="313" width="1" height="7" fill="#fff"/>
<rect x="527" y="313" width="1" height="7" fill="#fff"/>
<rect x="537" y="313" width="1" height="7" fill="#fff"/>
<rect x="538" y="314" width="2" height="2" fill="#fff"/>
<polygon points="555,307 579,307 581,309 581,320 579,322 555,322 553,320 553,309" fill="#000"/>
<polygon points="556,309 578,309 579,310 579,319 578,320 556,320 555,319 555,310" fill="#fff"/>
<rect x="542" y="313" width="7" height="2" fill="#000"/>
<polygon points="555,309 548,313 548,315 555,319" fill="#000"/>
<polygon points="555,311 551,314 555,317" fill="#fff"/>
<rect x="523" y="324" width="20" height="90" fill="#000"/>
<rect x="524" y="325" width="18" height="88" fill="#fff"/>
<rect x="525" y="327" width="7" height="6" fill="#000"/>
<rect x="526" y="328" width="5" height="4" fill="#fff"/>
<rect x="533" y="328" width="2" height="4" fill="#000"/>
<polygon points="537,327 540,327 541,328 541,332 540,333 537,333 536,332 536,328" fill="#000"/>
<rect x="525" y="334" width="7" height="6" fill="#000"/>
<rect x="526" y="335" width="5" height="4" fill="#fff"/>
<rect x="533" y="335" width="2" height="4" fill="#000"/>
<polygon points="537,334 540,334 541,335 541,339 540,340 537,340 536,339 536,335" fill="#000"/>
<rect x="525" y="342" width="7" height="6" fill="#000"/>
<rect x="526" y="343" width="5" height="4" fill="#fff"/>
<rect x="533" y="343" width="2" height="4" fill="#000"/>
<polygon points="537,342 540,342 541,343 541,347 540,348 537,348 536,347 536,343" fill="#000"/>
<rect x="525" y="349" width="7" height="6" fill="#000"/>
<rect x="526" y="350" width="5" height="4" fill="#fff"/>
<rect x="533" y="350" width="2" height="4" fill="#000"/>
<polygon points="537,349 540,349 541,350 541,354 540,355 537,355 536,354 536,350" fill="#000"/>
<rect x="525" y="357" width="7" height="6" fill="#000"/>
<rect x="526" y="358" width="5" height="4" fill="#fff"/>
<rect x="533" y="358" width="2" height="4" fill="#000"/>
<polygon points="537,357 540,357 541,358 541,362 540,363 537,363 536,362 536,358" fill="#000"/>
<rect x="525" y="364" width="7" height="6" fill="#000"/>
<rect x="526" y="365" width="5" height="4" fill="#fff"/>
<rect x="533" y="365" width="2" height="4" fill="#000"/>
<polygon points="537,364 540,364 541,365 541,369 540,370 537,370 536,369 536,365" fill="#000"/>
<rect x="525" y="371" width="7" height="6" fill="#000"/>
<rect x="526" y="372" width="5" height="4" fill="#fff"/>
<rect x="533" y="372" width="2" height="4" fill="#000"/>
<polygon points="537,371 540,371 541,372 541,376 540,377 537,377 536,376 536,372" fill="#000"/>
<rect x="525" y="379" width="7" height="6" fill="#000"/>
<rect x="526" y="380" width="5" height="4" fill="#fff"/>
<rect x="533" y="380" width="2" height="4" fill="#000"/>
<polygon points="537,379 540,379 541,380 541,384 540,385 537,385 536,384 536,380" fill="#000"/>
<rect x="525" y="386" width="7" height="6" fill="#000"/>
<rect x="526" y="387" width="5" height="4" fill="#fff"/>
<rect x="533" y="387" width="2" height="4" fill="#000"/>
<polygon points="537,386 540,386 541,387 541,391 540,392 537,392 536,391 536,387" fill="#000"/>
<rect x="525" y="394" width="7" height="6" fill="#000"/>
<rect x="526" y="395" width="5" height="4" fill="#fff"/>
<rect x="533" y="395" width="2" height="4" fill="#000"/>
<polygon points="537,394 540,394 541,395 541,399 540,400 537,400 536,399 536,395" fill="#000"/>
<rect x="525" y="401" width="7" height="6" fill="#000"/>
<rect x="526" y="402" width="5" height="4" fill="#fff"/>
<rect x="533" y="402" width="2" height="4" fill="#000"/>
<polygon points="537,401 540,401 541,402 541,406 540,407 537,407 536,406 536,402" fill="#000"/>
<rect x="525" y="408" width="7" height="6" fill="#000"/>
<rect x="526" y="409" width="5" height="4" fill="#fff"/>
<rect x="533" y="409" width="2" height="4" fill="#000"/>
<polygon points="537,408 540,408 541,409 541,413 540,414 537,414 536,413 536,409" fill="#000"/>
<rect x="538" y="325" width="1" height="88" fill="#000"/>
<rect x="567" y="324" width="5" height="24" fill="#000"/>
<rect x="568" y="328" width="3" height="1" fill="#fff"/>
<rect x="568" y="333" width="3" height="1" fill="#fff"/>
<rect x="568" y="338" width="3" height="1" fill="#fff"/>
<rect x="568" y="342" width="3" height="1" fill="#fff"/>
<rect x="569" y="344" width="2" height="2" fill="#fff"/>
<polygon points="587,327 604,327 606,329 606,340 604,342 587,342 585,340 585,329" fill="#000"/>
<polygon points="588,329 603,329 604,330 604,339 603,340 588,340 587,339 587,330" fill="#fff"/>
<rect x="572" y="333" width="7" height="2" fill="#000"/>
<polygon points="587,329 578,333 578,335 587,339" fill="#000"/>
<polygon points="587,331 581,334 587,337" fill="#fff"/>
<rect x="499" y="357" width="21" height="6" fill="#000"/>
<rect x="500" y="358" width="19" height="4" fill="#fff"/>
<rect x="504" y="358" width="1" height="4" fill="#000"/>
<rect x="509" y="358" width="1" height="4" fill="#000"/>
<rect x="514" y="358" width="1" height="4" fill="#000"/>
<rect x="501" y="359" width="2" height="2" fill="#000"/>
<rect x="505" y="358" width="3" height="4" fill="#000"/>
<rect x="510" y="358" width="3" height="4" fill="#000"/>
<rect x="515" y="358" width="3" height="4" fill="#000"/>
<polygon points="534,353 550,353 552,355 552,366 550,368 534,368 532,366 532,355" fill="#000"/>
<polygon points="535,355 549,355 550,356 550,365 549,366 535,366 534,365 534,356" fill="#fff"/>
<rect x="520" y="359" width="6" height="2" fill="#000"/>
<polygon points="534,355 525,359 525,361 534,365" fill="#000"/>
<polygon points="534,357 528,360 534,363" fill="#fff"/>
<rect x="499" y="365" width="21" height="6" fill="#000"/>
<rect x="500" y="366" width="19" height="4" fill="#fff"/>
<rect x="504" y="366" width="1" height="4" fill="#000"/>
<rect x="509" y="366" width="1" height="4" fill="#000"/>
<rect x="514" y="366" width="1" height="4" fill="#000"/>
<rect x="501" y="367" width="2" height="2" fill="#000"/>
<rect x="505" y="366" width="3" height="4" fill="#000"/>
<rect x="510" y="366" width="3" height="4" fill="#000"/>
<rect x="515" y="366" width="3" height="4" fill="#000"/>
<polygon points="527,374 543,374 545,376 545,386 543,388 527,388 525,386 525,376" fill="#000"/>
<polygon points="528,376 542,376 543,377 543,385 542,386 528,386 527,385 527,377" fill="#fff"/>
<polygon points="519,369 522,369 531,375 528,375" fill="#000"/>
<polygon points="558,366 577,366 577,363 580,363 580,361 582,361 582,402 580,402 580,400 577,400 577,396 558,396 558,391 556,391 556,371 558,371" fill="#000"/>
<rect x="553" y="373" width="4" height="7" fill="#000"/>
<rect x="554" y="374" width="2" height="5" fill="#fff"/>
<rect x="553" y="382" width="4" height="7" fill="#000"/>
<rect x="554" y="383" width="2" height="5" fill="#fff"/>
<rect x="556" y="379" width="1" height="3" fill="#fff"/>
<g filter="url(#thr)" font-family="Liberation Sans" fill="#000">
<text x="436.20" y="52.80" font-size="9.6" textLength="27.40" lengthAdjust="spacingAndGlyphs">34178</text>
<text x="548.84" y="104.00" font-size="11" textLength="19.00" lengthAdjust="spacingAndGlyphs">KBD</text>
<text x="42.53" y="16.00" font-size="10.7" textLength="18.04" lengthAdjust="spacingAndGlyphs">J17</text>
<text x="91.74" y="16.00" font-size="10.84" textLength="16.72" lengthAdjust="spacingAndGlyphs">J16</text>
<text x="124.74" y="13.00" font-size="10.2" textLength="23.05" lengthAdjust="spacingAndGlyphs">JP21</text>
<text x="183.74" y="14.00" font-size="10.84" textLength="23.57" lengthAdjust="spacingAndGlyphs">JP20</text>
<text x="77.58" y="61.00" font-size="11.11" textLength="24.64" lengthAdjust="spacingAndGlyphs">JP24</text>
<text x="21.94" y="34.00" font-size="10.56" textLength="16.36" lengthAdjust="spacingAndGlyphs">J14</text>
<text x="20.42" y="59.00" font-size="11" textLength="18.35" lengthAdjust="spacingAndGlyphs">J12</text>
<text x="15.43" y="79.50" font-size="11" textLength="24.54" lengthAdjust="spacingAndGlyphs">JP18</text>
<text x="21.24" y="95.60" font-size="11" textLength="16.77" lengthAdjust="spacingAndGlyphs">J11</text>
<text x="98.74" y="79.00" font-size="11.11" textLength="23.90" lengthAdjust="spacingAndGlyphs">JP15</text>
<text x="113.72" y="91.00" font-size="10">2</text>
<text x="229.84" y="68.00" font-size="10.77" textLength="17.82" lengthAdjust="spacingAndGlyphs">JP3</text>
<text x="183.72" y="101.00" font-size="10">2</text>
<text x="216.73" y="89.00" font-size="10.43" textLength="24.10" lengthAdjust="spacingAndGlyphs">JP12</text>
<text x="258.33" y="93.50" font-size="10.2" textLength="18.64" lengthAdjust="spacingAndGlyphs">JP8</text>
<text x="275.03" y="112.00" font-size="10.3" textLength="17.60" lengthAdjust="spacingAndGlyphs">J10</text>
<text x="469.53" y="110.00" font-size="10.8" textLength="24.18" lengthAdjust="spacingAndGlyphs">JP10</text>
<text x="444.44" y="125.60" font-size="10.2" textLength="22.95" lengthAdjust="spacingAndGlyphs">JP11</text>
<text x="62.60" y="124.00" font-size="11" fill="#fff">A</text>
<text x="72.80" y="124.00" font-size="11" fill="#fff">M</text>
<text x="84.00" y="124.00" font-size="11" fill="#fff">P</text>
<text x="114.20" y="125.60" font-size="11" textLength="24.40" lengthAdjust="spacingAndGlyphs">JP23</text>
<text x="99.87" y="187.00" font-size="10.84" textLength="22.19" lengthAdjust="spacingAndGlyphs">CPU</text>
<text x="7.44" y="165.50" font-size="10.2" textLength="17.78" lengthAdjust="spacingAndGlyphs">JP7</text>
<text x="6.63" y="185.50" font-size="10.2" textLength="18.23" lengthAdjust="spacingAndGlyphs">JP6</text>
<text x="212.07" y="133.00" font-size="10.2">TAG</text>
<text x="421.20" y="176.00" font-size="11" textLength="20.10" lengthAdjust="spacingAndGlyphs">PC4</text>
<text x="421.20" y="212.00" font-size="11" textLength="20.10" lengthAdjust="spacingAndGlyphs">PC3</text>
<text x="421.20" y="248.00" font-size="11" textLength="20.10" lengthAdjust="spacingAndGlyphs">PC2</text>
<text x="421.20" y="283.00" font-size="11" textLength="20.10" lengthAdjust="spacingAndGlyphs">PC1</text>
<text x="442.81" y="194.40" font-size="11" textLength="21.00" lengthAdjust="spacingAndGlyphs">JP5</text>
<text x="579.84" y="186.00" font-size="10.2" textLength="11.06" lengthAdjust="spacingAndGlyphs">J9</text>
<text x="157.20" y="262.00" font-size="11" textLength="17.80" lengthAdjust="spacingAndGlyphs">SL1</text>
<text x="92.18" y="313.20" font-size="10.7" textLength="39.75" lengthAdjust="spacingAndGlyphs">BANK 0</text>
<text x="95.88" y="356.40" font-size="11.39" textLength="36.17" lengthAdjust="spacingAndGlyphs">CACHE</text>
<text x="173.60" y="348.40" font-size="10" textLength="5.60" lengthAdjust="spacingAndGlyphs">2</text>
<text x="210.73" y="357.00" font-size="10.2" textLength="19.06" lengthAdjust="spacingAndGlyphs">JP3</text>
<text x="363.40" y="353.00" font-size="11" textLength="37.80" lengthAdjust="spacingAndGlyphs">BANK 1</text>
<text x="363.40" y="380.00" font-size="11" textLength="37.80" lengthAdjust="spacingAndGlyphs">BANK 0</text>
<text x="363.10" y="404.80" font-size="11.25" textLength="38.85" lengthAdjust="spacingAndGlyphs">BANK 2</text>
<text x="294.35" y="302.00" font-size="10.2" textLength="21.50" lengthAdjust="spacingAndGlyphs">CN5</text>
<text x="294.35" y="319.60" font-size="10.2" textLength="21.52" lengthAdjust="spacingAndGlyphs">CN6</text>
<text x="462.15" y="276.70" font-size="10.2" textLength="21.73" lengthAdjust="spacingAndGlyphs">CN3</text>
<text x="550.03" y="293.00" font-size="10.2" textLength="22.42" lengthAdjust="spacingAndGlyphs">CN1</text>
<text x="472.48" y="345.00" font-size="10.84" textLength="20.52" lengthAdjust="spacingAndGlyphs">CN4</text>
<text x="556.35" y="318.00" font-size="10.29" textLength="21.70" lengthAdjust="spacingAndGlyphs">CN2</text>
<text x="589.14" y="339.00" font-size="11" textLength="10.97" lengthAdjust="spacingAndGlyphs">J4</text>
<text x="535.44" y="363.60" font-size="11" textLength="11.02" lengthAdjust="spacingAndGlyphs">J3</text>
<text x="529.53" y="383.90" font-size="11" textLength="11.20" lengthAdjust="spacingAndGlyphs">J2</text>
</g>
</svg></body></html>
